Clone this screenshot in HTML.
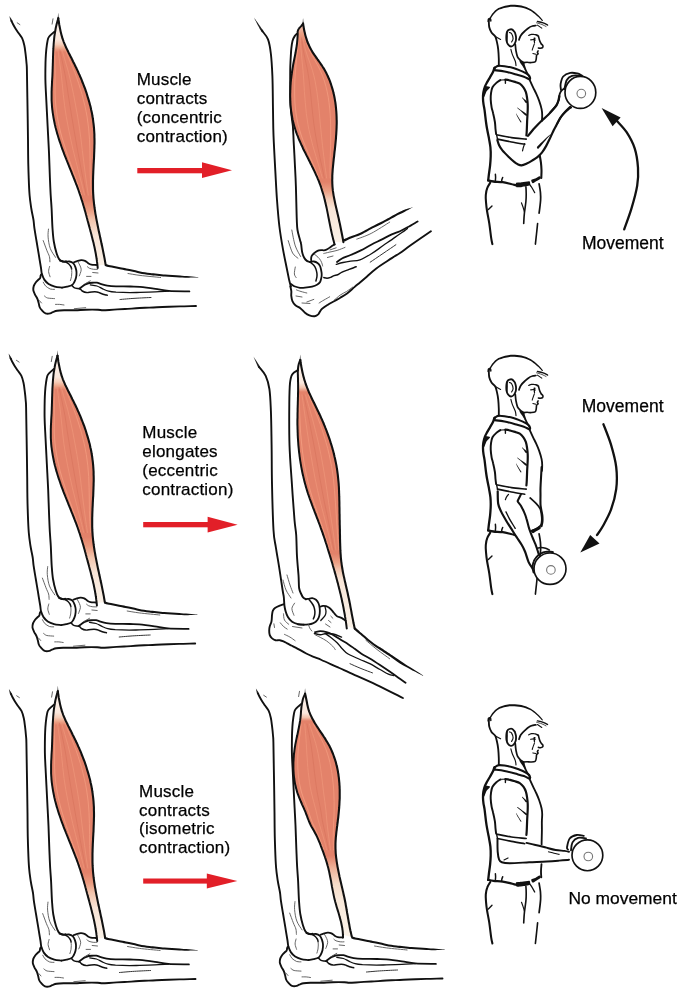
<!DOCTYPE html>
<html><head><meta charset="utf-8"><style>
html,body{margin:0;padding:0;background:#fff;width:680px;height:994px;overflow:hidden}
svg{display:block;will-change:transform}
text{font-family:"Liberation Sans",sans-serif;fill:#000;stroke:#000;stroke-width:0.25px}
</style></head><body>
<svg width="680" height="994" viewBox="0 0 680 994">
<defs>
<g id="armAm"><path d="M58.2,13.3C58.1,13.6 58.0,15.1 57.9,15.8C57.8,16.5 57.4,18.4 57.6,18.8C57.7,19.2 58.9,19.2 59.1,18.8C59.2,18.4 58.8,16.5 58.7,15.8C58.6,15.1 58.5,13.6 58.4,13.3C58.3,13.0 58.3,13.0 58.2,13.3Z" fill="#666" stroke="none"/>
<linearGradient id="gA" gradientUnits="userSpaceOnUse" x1="0" y1="14" x2="0" y2="268"><stop offset="0" stop-color="#FDF6F0"/><stop offset="0.1" stop-color="#FAE8DD"/><stop offset="0.12" stop-color="#F5CDB8"/><stop offset="0.135" stop-color="#EEA88C"/><stop offset="0.15" stop-color="#E3826A"/><stop offset="0.73" stop-color="#E3826A"/><stop offset="0.77" stop-color="#EA9A7E"/><stop offset="0.81" stop-color="#F2C4AC"/><stop offset="0.87" stop-color="#F8E4D6"/><stop offset="1" stop-color="#FAF2E8"/></linearGradient>
<path d="M58.3,18.3C58.5,18.3 58.6,20.3 58.8,21.3C58.9,22.3 59.1,23.4 59.2,24.4C59.4,25.4 59.6,26.4 59.8,27.4C60.0,28.4 60.2,29.4 60.4,30.4C60.6,31.4 60.8,32.4 61.1,33.4C61.3,34.4 61.6,35.4 61.9,36.3C62.1,37.3 62.4,38.3 62.8,39.2C63.1,40.2 63.5,41.2 63.8,42.1C64.2,43.1 64.6,44.0 65.0,44.9C65.4,45.9 65.8,46.8 66.2,47.7C66.7,48.6 67.1,49.6 67.6,50.5C68.0,51.4 68.5,52.3 68.9,53.2C69.4,54.1 69.8,55.0 70.3,55.9C70.7,56.8 71.2,57.7 71.7,58.6C72.1,59.5 72.6,60.5 73.0,61.4C73.5,62.3 73.9,63.2 74.4,64.1C74.8,65.0 75.3,65.9 75.7,66.8C76.2,67.7 76.6,68.6 77.0,69.6C77.5,70.5 77.9,71.4 78.3,72.3C78.7,73.3 79.1,74.2 79.6,75.1C80.0,76.1 80.4,77.0 80.8,77.9C81.2,78.9 81.6,79.8 82.0,80.8C82.3,81.7 82.7,82.7 83.1,83.6C83.5,84.6 83.8,85.5 84.2,86.5C84.6,87.5 84.9,88.4 85.3,89.4C85.6,90.4 85.9,91.3 86.3,92.3C86.6,93.3 86.9,94.2 87.2,95.2C87.5,96.2 87.8,97.2 88.1,98.1C88.4,99.1 88.7,100.1 89.0,101.1C89.3,102.1 89.5,103.1 89.8,104.1C90.1,105.1 90.3,106.0 90.6,107.0C90.8,108.0 91.0,109.0 91.2,110.0C91.5,111.0 91.7,112.0 91.9,113.0C92.1,114.0 92.3,115.0 92.4,116.0C92.6,117.0 92.8,118.0 92.9,119.0C93.1,120.0 93.2,121.1 93.3,122.1C93.5,123.1 93.6,124.1 93.7,125.1C93.8,126.1 93.9,127.1 94.0,128.1C94.1,129.1 94.1,130.2 94.2,131.2C94.3,132.2 94.3,133.2 94.4,134.2C94.4,135.2 94.4,136.3 94.4,137.3C94.5,138.3 94.5,139.3 94.5,140.3C94.5,141.3 94.5,142.4 94.5,143.4C94.5,144.4 94.4,145.4 94.4,146.4C94.4,147.5 94.4,148.5 94.3,149.5C94.3,150.5 94.3,151.6 94.2,152.6C94.2,153.6 94.1,154.6 94.1,155.6C94.1,156.7 94.0,157.7 94.0,158.7C93.9,159.7 93.8,160.8 93.8,161.8C93.7,162.8 93.7,163.8 93.6,164.9C93.6,165.9 93.5,166.9 93.5,167.9C93.4,168.9 93.4,170.0 93.3,171.0C93.3,172.0 93.3,173.0 93.2,174.1C93.2,175.1 93.1,176.1 93.1,177.1C93.1,178.1 93.1,179.2 93.0,180.2C93.0,181.2 93.0,182.2 93.0,183.2C93.0,184.3 93.0,185.3 93.0,186.3C93.0,187.3 93.0,188.3 93.0,189.3C93.1,190.4 93.1,191.4 93.1,192.4C93.2,193.4 93.2,194.4 93.3,195.4C93.4,196.4 93.4,197.5 93.5,198.5C93.6,199.5 93.7,200.5 93.8,201.5C93.9,202.5 94.0,203.5 94.1,204.5C94.3,205.5 94.4,206.5 94.5,207.5C94.7,208.5 94.8,209.6 95.0,210.6C95.1,211.6 95.3,212.6 95.4,213.6C95.6,214.6 95.8,215.6 96.0,216.6C96.1,217.6 96.3,218.6 96.5,219.6C96.7,220.6 96.9,221.6 97.1,222.6C97.3,223.6 97.5,224.6 97.7,225.6C97.9,226.6 98.1,227.6 98.3,228.6C98.5,229.6 98.7,230.6 98.9,231.6C99.2,232.6 99.4,233.6 99.6,234.6C99.8,235.6 100.0,236.6 100.2,237.6C100.5,238.6 100.7,239.6 100.9,240.6C101.1,241.6 101.3,242.6 101.5,243.6C101.8,244.6 102.0,245.6 102.2,246.6C102.4,247.6 102.6,248.6 102.8,249.6C103.0,250.6 103.2,251.6 103.4,252.6C103.6,253.6 103.8,254.6 104.0,255.6C104.2,256.6 104.4,257.6 104.6,258.6C104.8,259.6 104.9,260.6 105.1,261.6C105.3,262.6 106.9,264.0 105.6,264.6C104.3,265.2 98.8,265.4 97.4,264.9C96.0,264.5 97.2,262.9 97.0,261.9C96.9,260.9 96.8,259.8 96.6,258.8C96.5,257.8 96.3,256.8 96.1,255.8C96.0,254.8 95.8,253.8 95.6,252.8C95.4,251.8 95.2,250.8 95.0,249.8C94.8,248.8 94.6,247.8 94.4,246.8C94.1,245.8 93.9,244.8 93.7,243.8C93.5,242.8 93.2,241.9 93.0,240.9C92.7,239.9 92.5,238.9 92.2,237.9C92.0,236.9 91.7,235.9 91.5,234.9C91.2,234.0 91.0,233.0 90.7,232.0C90.4,231.0 90.2,230.0 89.9,229.0C89.7,228.0 89.4,227.1 89.1,226.1C88.9,225.1 88.6,224.1 88.3,223.1C88.1,222.2 87.8,221.2 87.5,220.2C87.3,219.2 87.0,218.2 86.7,217.2C86.5,216.3 86.2,215.3 85.9,214.3C85.7,213.3 85.4,212.3 85.1,211.3C84.8,210.4 84.6,209.4 84.3,208.4C84.0,207.4 83.7,206.5 83.4,205.5C83.1,204.5 82.9,203.5 82.6,202.6C82.3,201.6 82.0,200.6 81.6,199.6C81.3,198.7 81.0,197.7 80.7,196.7C80.4,195.8 80.1,194.8 79.7,193.8C79.4,192.9 79.1,191.9 78.7,190.9C78.4,190.0 78.0,189.0 77.7,188.1C77.3,187.1 77.0,186.2 76.6,185.2C76.2,184.3 75.9,183.3 75.5,182.4C75.1,181.4 74.8,180.4 74.4,179.5C74.0,178.5 73.6,177.6 73.3,176.6C72.9,175.7 72.5,174.8 72.1,173.8C71.7,172.9 71.4,171.9 71.0,171.0C70.6,170.0 70.2,169.1 69.8,168.1C69.4,167.2 69.0,166.2 68.7,165.3C68.3,164.3 67.9,163.4 67.5,162.4C67.1,161.5 66.8,160.5 66.4,159.6C66.0,158.6 65.6,157.7 65.2,156.7C64.9,155.8 64.5,154.8 64.1,153.9C63.8,152.9 63.4,152.0 63.1,151.0C62.7,150.0 62.3,149.1 62.0,148.1C61.6,147.2 61.3,146.2 61.0,145.2C60.6,144.3 60.3,143.3 60.0,142.3C59.6,141.4 59.3,140.4 59.0,139.4C58.7,138.5 58.4,137.5 58.1,136.5C57.8,135.5 57.5,134.6 57.2,133.6C56.9,132.6 56.7,131.6 56.4,130.6C56.1,129.6 55.9,128.6 55.6,127.7C55.4,126.7 55.2,125.7 54.9,124.7C54.7,123.7 54.5,122.7 54.3,121.7C54.1,120.7 53.9,119.7 53.7,118.7C53.5,117.7 53.3,116.7 53.2,115.7C53.0,114.7 52.9,113.6 52.7,112.6C52.6,111.6 52.5,110.6 52.3,109.6C52.2,108.6 52.1,107.6 52.0,106.6C51.9,105.6 51.9,104.5 51.8,103.5C51.7,102.5 51.7,101.5 51.6,100.5C51.6,99.5 51.6,98.4 51.6,97.4C51.6,96.4 51.6,95.4 51.6,94.4C51.6,93.4 51.6,92.3 51.6,91.3C51.7,90.3 51.7,89.3 51.7,88.2C51.8,87.2 51.8,86.2 51.9,85.2C51.9,84.2 52.0,83.1 52.0,82.1C52.1,81.1 52.1,80.1 52.2,79.0C52.3,78.0 52.3,77.0 52.4,76.0C52.4,75.0 52.5,73.9 52.5,72.9C52.6,71.9 52.6,70.9 52.6,69.8C52.7,68.8 52.7,67.8 52.7,66.8C52.8,65.7 52.8,64.7 52.8,63.7C52.9,62.7 52.9,61.6 52.9,60.6C52.9,59.6 53.0,58.6 53.0,57.5C53.0,56.5 53.1,55.5 53.1,54.5C53.1,53.4 53.2,52.4 53.2,51.4C53.3,50.4 53.3,49.4 53.4,48.4C53.4,47.3 53.5,46.3 53.6,45.3C53.6,44.3 53.7,43.3 53.8,42.3C53.9,41.2 54.0,40.2 54.1,39.2C54.2,38.2 54.3,37.2 54.4,36.2C54.6,35.2 54.7,34.2 54.9,33.2C55.0,32.2 55.2,31.2 55.4,30.2C55.5,29.2 55.7,28.2 55.9,27.2C56.2,26.2 56.4,25.2 56.6,24.2C56.9,23.2 57.1,22.2 57.4,21.2C57.7,20.3 58.1,18.3 58.3,18.3Z" fill="url(#gA)" stroke="none"/>
<path d="M54.7,50.0C54.7,51.9 54.8,57.4 54.9,61.2C55.0,64.9 55.1,68.6 55.1,72.3C55.1,76.0 55.1,79.7 55.1,83.5C55.1,87.2 55.0,90.9 55.1,94.6C55.2,98.3 55.4,102.1 55.8,105.8C56.2,109.5 56.7,113.2 57.3,116.9C57.9,120.6 58.7,124.4 59.6,128.1C60.4,131.8 61.4,135.5 62.5,139.2C63.6,142.9 64.8,146.7 66.0,150.4C67.2,154.1 68.5,157.8 69.8,161.5C71.1,165.3 72.5,169.0 73.8,172.7C75.2,176.4 76.5,180.1 77.8,183.8C79.0,187.6 80.8,193.1 81.4,195.0" fill="none" stroke="#F29A7E" stroke-width="1.1" stroke-linecap="round" opacity="0.9"/>
<path d="M57.9,50.0C58.2,51.9 59.0,57.4 59.5,61.2C60.0,64.9 60.6,68.6 61.0,72.3C61.5,76.0 61.8,79.7 62.2,83.5C62.6,87.2 62.9,90.9 63.3,94.6C63.7,98.3 64.1,102.1 64.6,105.8C65.1,109.5 65.7,113.2 66.3,116.9C67.0,120.6 67.6,124.4 68.4,128.1C69.1,131.8 69.9,135.5 70.7,139.2C71.5,142.9 72.3,146.7 73.2,150.4C74.1,154.1 75.0,157.8 76.0,161.5C76.9,165.3 77.8,169.0 78.8,172.7C79.7,176.4 80.7,180.1 81.7,183.8C82.6,187.6 84.0,193.1 84.5,195.0" fill="none" stroke="#EE9478" stroke-width="1.0" stroke-linecap="round" opacity="0.8"/>
<path d="M59.9,50.0C60.3,51.9 61.5,57.4 62.3,61.2C63.1,64.9 63.9,68.6 64.6,72.3C65.4,76.0 66.0,79.7 66.6,83.5C67.2,87.2 67.7,90.9 68.2,94.6C68.8,98.3 69.4,102.1 70.0,105.8C70.5,109.5 71.2,113.2 71.8,116.9C72.4,120.6 73.1,124.4 73.7,128.1C74.4,131.8 75.0,135.5 75.6,139.2C76.3,142.9 76.9,146.7 77.6,150.4C78.3,154.1 79.0,157.8 79.7,161.5C80.4,165.3 81.1,169.0 81.8,172.7C82.5,176.4 83.3,180.1 84.0,183.8C84.8,187.6 85.9,193.1 86.3,195.0" fill="none" stroke="#D06B54" stroke-width="0.9" stroke-linecap="round" opacity="0.45"/>
<path d="M62.0,50.0C62.6,51.9 64.2,57.4 65.3,61.2C66.4,64.9 67.5,68.6 68.5,72.3C69.5,76.0 70.4,79.7 71.2,83.5C72.1,87.2 72.8,90.9 73.6,94.6C74.3,98.3 75.0,102.1 75.7,105.8C76.4,109.5 77.1,113.2 77.7,116.9C78.3,120.6 78.9,124.4 79.5,128.1C80.0,131.8 80.5,135.5 81.0,139.2C81.4,142.9 81.9,146.7 82.3,150.4C82.8,154.1 83.2,157.8 83.7,161.5C84.1,165.3 84.6,169.0 85.1,172.7C85.5,176.4 86.0,180.1 86.6,183.8C87.1,187.6 88.0,193.1 88.3,195.0" fill="none" stroke="#EE9579" stroke-width="1.0" stroke-linecap="round" opacity="0.75"/>
<path d="M65.4,50.0C66.2,51.9 68.6,57.4 70.1,61.2C71.7,64.9 73.3,68.6 74.7,72.3C76.1,76.0 77.5,79.7 78.7,83.5C79.9,87.2 81.0,90.9 82.1,94.6C83.1,98.3 84.0,102.1 84.9,105.8C85.7,109.5 86.5,113.2 87.1,116.9C87.7,120.6 88.2,124.4 88.6,128.1C89.0,131.8 89.3,135.5 89.5,139.2C89.7,142.9 89.8,146.7 89.9,150.4C90.0,154.1 90.0,157.8 90.1,161.5C90.1,165.3 90.2,169.0 90.2,172.7C90.3,176.4 90.4,180.1 90.6,183.8C90.8,187.6 91.3,193.1 91.4,195.0" fill="none" stroke="#F29A7E" stroke-width="1.0" stroke-linecap="round" opacity="0.85"/>
<path d="M58.3,18.3C58.4,18.8 58.6,20.3 58.8,21.3C58.9,22.3 59.1,23.4 59.2,24.4C59.4,25.4 59.6,26.4 59.8,27.4C60.0,28.4 60.2,29.4 60.4,30.4C60.6,31.4 60.8,32.4 61.1,33.4C61.3,34.4 61.6,35.4 61.9,36.3C62.1,37.3 62.4,38.3 62.8,39.2C63.1,40.2 63.5,41.2 63.8,42.1C64.2,43.1 64.6,44.0 65.0,44.9C65.4,45.9 65.8,46.8 66.2,47.7C66.7,48.6 67.1,49.6 67.6,50.5C68.0,51.4 68.5,52.3 68.9,53.2C69.4,54.1 69.8,55.0 70.3,55.9C70.7,56.8 71.2,57.7 71.7,58.6C72.1,59.5 72.6,60.5 73.0,61.4C73.5,62.3 73.9,63.2 74.4,64.1C74.8,65.0 75.3,65.9 75.7,66.8C76.2,67.7 76.6,68.6 77.0,69.6C77.5,70.5 77.9,71.4 78.3,72.3C78.7,73.3 79.1,74.2 79.6,75.1C80.0,76.1 80.4,77.0 80.8,77.9C81.2,78.9 81.6,79.8 82.0,80.8C82.3,81.7 82.7,82.7 83.1,83.6C83.5,84.6 83.8,85.5 84.2,86.5C84.6,87.5 84.9,88.4 85.3,89.4C85.6,90.4 85.9,91.3 86.3,92.3C86.6,93.3 86.9,94.2 87.2,95.2C87.5,96.2 87.8,97.2 88.1,98.1C88.4,99.1 88.7,100.1 89.0,101.1C89.3,102.1 89.5,103.1 89.8,104.1C90.1,105.1 90.3,106.0 90.6,107.0C90.8,108.0 91.0,109.0 91.2,110.0C91.5,111.0 91.7,112.0 91.9,113.0C92.1,114.0 92.3,115.0 92.4,116.0C92.6,117.0 92.8,118.0 92.9,119.0C93.1,120.0 93.2,121.1 93.3,122.1C93.5,123.1 93.6,124.1 93.7,125.1C93.8,126.1 93.9,127.1 94.0,128.1C94.1,129.1 94.1,130.2 94.2,131.2C94.3,132.2 94.3,133.2 94.4,134.2C94.4,135.2 94.4,136.3 94.4,137.3C94.5,138.3 94.5,139.3 94.5,140.3C94.5,141.3 94.5,142.4 94.5,143.4C94.5,144.4 94.4,145.4 94.4,146.4C94.4,147.5 94.4,148.5 94.3,149.5C94.3,150.5 94.3,151.6 94.2,152.6C94.2,153.6 94.1,154.6 94.1,155.6C94.1,156.7 94.0,157.7 94.0,158.7C93.9,159.7 93.8,160.8 93.8,161.8C93.7,162.8 93.7,163.8 93.6,164.9C93.6,165.9 93.5,166.9 93.5,167.9C93.4,168.9 93.4,170.0 93.3,171.0C93.3,172.0 93.3,173.0 93.2,174.1C93.2,175.1 93.1,176.1 93.1,177.1C93.1,178.1 93.1,179.2 93.0,180.2C93.0,181.2 93.0,182.2 93.0,183.2C93.0,184.3 93.0,185.3 93.0,186.3C93.0,187.3 93.0,188.3 93.0,189.3C93.1,190.4 93.1,191.4 93.1,192.4C93.2,193.4 93.2,194.4 93.3,195.4C93.4,196.4 93.4,197.5 93.5,198.5C93.6,199.5 93.7,200.5 93.8,201.5C93.9,202.5 94.0,203.5 94.1,204.5C94.3,205.5 94.4,206.5 94.5,207.5C94.7,208.5 94.8,209.6 95.0,210.6C95.1,211.6 95.3,212.6 95.4,213.6C95.6,214.6 95.8,215.6 96.0,216.6C96.1,217.6 96.3,218.6 96.5,219.6C96.7,220.6 96.9,221.6 97.1,222.6C97.3,223.6 97.5,224.6 97.7,225.6C97.9,226.6 98.1,227.6 98.3,228.6C98.5,229.6 98.7,230.6 98.9,231.6C99.2,232.6 99.4,233.6 99.6,234.6C99.8,235.6 100.0,236.6 100.2,237.6C100.5,238.6 100.7,239.6 100.9,240.6C101.1,241.6 101.3,242.6 101.5,243.6C101.8,244.6 102.0,245.6 102.2,246.6C102.4,247.6 102.6,248.6 102.8,249.6C103.0,250.6 103.2,251.6 103.4,252.6C103.6,253.6 103.8,254.6 104.0,255.6C104.2,256.6 104.4,257.6 104.6,258.6C104.8,259.6 104.9,260.6 105.1,261.6C105.3,262.6 105.5,264.1 105.6,264.6" fill="none" stroke="#111" stroke-width="2.1" stroke-linecap="round" stroke-linejoin="round" />
<path d="M97.7,268.0C97.7,267.5 97.5,265.9 97.4,264.9C97.3,263.9 97.2,262.9 97.0,261.9C96.9,260.9 96.8,259.8 96.6,258.8C96.5,257.8 96.3,256.8 96.1,255.8C96.0,254.8 95.8,253.8 95.6,252.8C95.4,251.8 95.2,250.8 95.0,249.8C94.8,248.8 94.6,247.8 94.4,246.8C94.1,245.8 93.9,244.8 93.7,243.8C93.5,242.8 93.2,241.9 93.0,240.9C92.7,239.9 92.5,238.9 92.2,237.9C92.0,236.9 91.7,235.9 91.5,234.9C91.2,234.0 91.0,233.0 90.7,232.0C90.4,231.0 90.2,230.0 89.9,229.0C89.7,228.0 89.4,227.1 89.1,226.1C88.9,225.1 88.6,224.1 88.3,223.1C88.1,222.2 87.8,221.2 87.5,220.2C87.3,219.2 87.0,218.2 86.7,217.2C86.5,216.3 86.2,215.3 85.9,214.3C85.7,213.3 85.4,212.3 85.1,211.3C84.8,210.4 84.6,209.4 84.3,208.4C84.0,207.4 83.7,206.5 83.4,205.5C83.1,204.5 82.9,203.5 82.6,202.6C82.3,201.6 82.0,200.6 81.6,199.6C81.3,198.7 81.0,197.7 80.7,196.7C80.4,195.8 80.1,194.8 79.7,193.8C79.4,192.9 79.1,191.9 78.7,190.9C78.4,190.0 78.0,189.0 77.7,188.1C77.3,187.1 77.0,186.2 76.6,185.2C76.2,184.3 75.9,183.3 75.5,182.4C75.1,181.4 74.8,180.4 74.4,179.5C74.0,178.5 73.6,177.6 73.3,176.6C72.9,175.7 72.5,174.8 72.1,173.8C71.7,172.9 71.4,171.9 71.0,171.0C70.6,170.0 70.2,169.1 69.8,168.1C69.4,167.2 69.0,166.2 68.7,165.3C68.3,164.3 67.9,163.4 67.5,162.4C67.1,161.5 66.8,160.5 66.4,159.6C66.0,158.6 65.6,157.7 65.2,156.7C64.9,155.8 64.5,154.8 64.1,153.9C63.8,152.9 63.4,152.0 63.1,151.0C62.7,150.0 62.3,149.1 62.0,148.1C61.6,147.2 61.3,146.2 61.0,145.2C60.6,144.3 60.3,143.3 60.0,142.3C59.6,141.4 59.3,140.4 59.0,139.4C58.7,138.5 58.4,137.5 58.1,136.5C57.8,135.5 57.5,134.6 57.2,133.6C56.9,132.6 56.7,131.6 56.4,130.6C56.1,129.6 55.9,128.6 55.6,127.7C55.4,126.7 55.2,125.7 54.9,124.7C54.7,123.7 54.5,122.7 54.3,121.7C54.1,120.7 53.9,119.7 53.7,118.7C53.5,117.7 53.3,116.7 53.2,115.7C53.0,114.7 52.9,113.6 52.7,112.6C52.6,111.6 52.5,110.6 52.3,109.6C52.2,108.6 52.1,107.6 52.0,106.6C51.9,105.6 51.9,104.5 51.8,103.5C51.7,102.5 51.7,101.5 51.6,100.5C51.6,99.5 51.6,98.4 51.6,97.4C51.6,96.4 51.6,95.4 51.6,94.4C51.6,93.4 51.6,92.3 51.6,91.3C51.7,90.3 51.7,89.3 51.7,88.2C51.8,87.2 51.8,86.2 51.9,85.2C51.9,84.2 52.0,83.1 52.0,82.1C52.1,81.1 52.1,80.1 52.2,79.0C52.3,78.0 52.3,77.0 52.4,76.0C52.4,75.0 52.5,73.9 52.5,72.9C52.6,71.9 52.6,70.9 52.6,69.8C52.7,68.8 52.7,67.8 52.7,66.8C52.8,65.7 52.8,64.7 52.8,63.7C52.9,62.7 52.9,61.6 52.9,60.6C52.9,59.6 53.0,58.6 53.0,57.5C53.0,56.5 53.1,55.5 53.1,54.5C53.1,53.4 53.2,52.4 53.2,51.4C53.3,50.4 53.3,49.4 53.4,48.4C53.4,47.3 53.5,46.3 53.6,45.3C53.6,44.3 53.7,43.3 53.8,42.3C53.9,41.2 54.0,40.2 54.1,39.2C54.2,38.2 54.3,37.2 54.4,36.2C54.6,35.2 54.7,34.2 54.9,33.2C55.0,32.2 55.2,31.2 55.4,30.2C55.5,29.2 55.7,28.2 55.9,27.2C56.2,26.2 56.4,25.2 56.6,24.2C56.9,23.2 57.1,22.2 57.4,21.2C57.7,20.3 58.2,18.8 58.3,18.3" fill="none" stroke="#111" stroke-width="2.0" stroke-linecap="round" stroke-linejoin="round" /></g>
<g id="armAb"><path d="M9.5,16.5C9.6,17.2 10.3,21.0 10.7,21.6C11.1,22.1 12.6,21.5 12.5,20.8C12.3,20.1 10.1,17.0 9.7,16.5C9.3,15.9 9.4,15.9 9.5,16.5Z" fill="#222" stroke="none"/>
<path d="M11.6,21.2C11.8,21.7 12.3,22.9 12.9,24.0C13.5,25.1 14.1,26.2 15.0,27.7C15.9,29.2 17.3,31.2 18.5,33.0C19.7,34.8 21.1,36.2 22.1,38.2C23.1,40.2 23.7,42.6 24.3,45.3C24.9,47.9 25.2,51.1 25.6,54.1C26.0,57.1 26.3,60.4 26.5,63.0C26.7,65.7 26.8,63.8 26.9,70.0C27.0,76.2 27.2,88.3 27.4,100.0C27.6,111.7 27.9,130.0 28.0,140.0C28.1,150.0 28.1,153.7 28.2,160.0C28.3,166.3 28.5,171.8 28.7,177.7C28.9,183.6 29.2,190.2 29.6,195.3C30.0,200.4 30.7,204.4 31.3,208.5C31.9,212.6 33.0,216.7 33.5,220.0C34.0,223.3 33.9,224.6 34.4,228.2C34.9,231.8 35.9,237.1 36.6,241.5C37.3,245.9 38.1,250.3 38.8,254.7C39.5,259.1 40.5,264.8 41.0,268.0C41.5,271.2 41.3,272.1 41.9,274.1C42.5,276.1 43.4,278.2 44.5,279.9C45.6,281.5 46.9,282.9 48.6,284.0C50.3,285.1 52.6,286.0 54.8,286.6C57.0,287.2 60.8,287.4 62.0,287.6" fill="none" stroke="#111" stroke-width="1.9" stroke-linecap="round" stroke-linejoin="round" />
<path d="M54.7,31.5C54.0,32.1 51.4,34.1 50.3,35.3C49.2,36.5 48.7,36.8 48.1,38.5C47.5,40.2 47.2,42.7 46.8,45.3C46.4,47.9 46.1,51.1 45.9,54.1C45.7,57.1 45.6,58.7 45.5,63.0C45.4,67.3 45.3,73.8 45.4,80.0C45.5,86.2 46.0,93.7 46.3,100.0C46.6,106.3 46.9,111.8 47.2,117.7C47.5,123.6 47.8,129.4 48.1,135.3C48.4,141.2 48.7,145.9 49.0,153.0C49.3,160.1 49.6,170.6 49.9,177.7C50.2,184.8 50.4,190.2 50.7,195.3C51.0,200.4 51.3,203.0 51.6,208.5C51.9,214.0 52.1,222.7 52.5,228.2C52.9,233.7 53.1,237.4 53.8,241.5C54.5,245.6 55.6,250.1 56.5,253.0C57.4,255.9 58.1,257.7 59.1,259.1C60.1,260.5 61.6,261.1 62.7,261.5C63.9,261.9 65.5,261.3 66.0,261.3" fill="none" stroke="#111" stroke-width="1.9" stroke-linecap="round" stroke-linejoin="round" />
<path d="M60.0,260.6C60.8,260.8 63.1,261.7 64.7,261.8C66.3,261.9 68.0,261.3 69.4,261.5C70.8,261.7 72.2,262.2 73.2,263.2C74.2,264.2 75.0,265.9 75.5,267.4C76.0,268.9 76.4,270.4 76.5,272.1C76.6,273.8 76.4,276.1 76.0,277.8C75.6,279.5 74.8,281.2 74.1,282.5C73.4,283.8 73.0,284.6 71.8,285.3C70.6,286.0 68.7,286.3 67.1,286.7C65.5,287.1 62.9,287.5 62.0,287.6" fill="none" stroke="#111" stroke-width="1.8" stroke-linecap="round" stroke-linejoin="round" />
<path d="M74.1,262.2C74.5,262.1 75.3,261.6 76.5,261.3C77.7,261.0 79.8,260.2 81.2,260.1C82.6,260.0 83.8,260.3 85.0,260.8C86.2,261.3 87.2,262.6 88.2,263.2C89.2,263.8 89.9,264.3 91.3,264.6C92.7,264.9 95.6,264.9 96.4,265.0" fill="none" stroke="#111" stroke-width="1.8" stroke-linecap="round" stroke-linejoin="round" />
<path d="M66.1,262.2C66.5,262.5 68.0,263.3 68.8,264.0C69.6,264.7 70.3,265.7 70.8,266.5C71.3,267.3 71.5,268.6 71.6,269.0" fill="none" stroke="#111" stroke-width="1.5" stroke-linecap="round" stroke-linejoin="round" />
<path d="M77.9,261.8C78.3,262.5 79.7,264.7 80.2,266.0C80.8,267.3 81.2,268.6 81.2,269.8C81.2,271.1 80.5,272.5 80.2,273.5C79.9,274.5 79.5,275.5 79.3,275.9" fill="none" stroke="#555" stroke-width="0.9" stroke-linecap="round" stroke-linejoin="round" />
<path d="M71.8,285.3C72.2,285.7 73.1,287.1 74.1,287.6C75.1,288.2 76.9,288.4 77.9,288.6C79.0,288.8 79.7,288.6 80.4,289.0C81.1,289.4 81.2,290.4 82.2,291.0C83.2,291.6 85.0,292.5 86.6,292.6C88.2,292.8 90.0,292.0 91.7,291.9C93.4,291.8 95.4,291.7 96.9,291.9C98.4,292.1 99.2,292.8 100.6,293.3C101.9,293.8 103.9,294.5 105.0,294.8C106.1,295.1 106.8,295.1 107.2,295.2" fill="none" stroke="#111" stroke-width="1.5" stroke-linecap="round" stroke-linejoin="round" />
<path d="M79.5,288.5C80.0,288.1 81.6,286.9 82.6,286.2C83.6,285.5 84.3,284.9 85.4,284.4C86.5,283.9 87.8,283.3 89.2,283.0C90.6,282.7 92.7,282.8 94.0,282.7C95.3,282.6 95.7,282.5 96.9,282.7C98.1,282.9 99.6,283.6 101.3,284.1C103.0,284.6 104.8,285.2 107.2,285.6C109.7,286.0 112.1,286.2 116.0,286.3C119.9,286.4 126.6,286.4 130.6,286.5C134.6,286.6 135.9,286.4 140.0,286.8C144.1,287.2 150.6,288.1 155.4,288.8C160.2,289.5 163.1,290.5 168.8,290.9C174.5,291.3 186.0,291.3 189.4,291.4" fill="none" stroke="#111" stroke-width="1.8" stroke-linecap="round" stroke-linejoin="round" />
<path d="M90.3,284.9C91.4,285.1 94.8,285.3 96.9,286.0C99.0,286.7 100.8,288.0 102.8,288.9C104.8,289.8 106.4,290.6 108.6,291.1C110.8,291.7 112.4,291.9 116.0,292.2C119.6,292.4 126.0,292.6 130.0,292.6C134.0,292.6 135.8,292.5 140.0,292.4C144.2,292.3 150.6,292.1 155.4,291.9C160.2,291.7 166.6,291.3 168.8,291.2" fill="none" stroke="#111" stroke-width="1.3" stroke-linecap="round" stroke-linejoin="round" />
<path d="M120.0,299.5C122.5,299.3 129.8,298.6 135.0,298.3C140.2,298.0 148.3,297.6 151.0,297.5" fill="none" stroke="#333" stroke-width="1.0" stroke-linecap="round" stroke-linejoin="round" />
<path d="M41.8,274.2C41.6,274.4 41.0,274.7 40.7,275.3C40.4,275.9 40.6,277.2 40.2,277.9C39.9,278.6 39.3,278.8 38.6,279.5C37.9,280.2 36.7,281.1 35.9,282.2C35.1,283.3 34.2,284.6 33.8,285.9C33.4,287.2 33.1,288.7 33.3,290.1C33.5,291.5 34.2,292.8 34.9,294.3C35.6,295.8 36.9,297.7 37.5,299.1C38.1,300.5 38.2,301.5 38.6,302.8C39.0,304.1 39.1,305.8 39.6,307.0C40.1,308.2 40.8,309.1 41.8,310.2C42.8,311.3 44.1,312.9 45.5,313.4C46.9,313.9 48.9,313.7 50.2,313.4C51.5,313.1 52.2,312.2 53.4,311.8C54.5,311.4 55.3,311.0 57.1,310.7C58.9,310.4 61.0,310.3 64.0,310.2C67.0,310.1 71.8,310.3 75.4,310.2C79.0,310.1 81.9,309.8 85.7,309.7C89.5,309.6 95.1,309.6 98.0,309.7C100.9,309.8 100.3,310.3 103.0,310.3C105.7,310.3 110.3,309.8 114.0,309.6C117.7,309.4 119.8,309.3 125.0,309.0C130.2,308.7 138.8,308.1 145.0,307.8C151.2,307.5 156.7,307.2 162.5,307.0C168.3,306.8 174.4,306.6 180.0,306.4C185.6,306.2 193.3,306.1 196.0,306.0" fill="none" stroke="#111" stroke-width="1.9" stroke-linecap="round" stroke-linejoin="round" />
<path d="M48.5,229.1C48.4,230.4 47.8,233.9 48.1,237.1C48.4,240.3 49.0,245.1 50.3,248.5C51.5,251.9 54.7,255.9 55.6,257.4" fill="none" stroke="#555" stroke-width="0.9" stroke-linecap="round" stroke-linejoin="round" />
<path d="M43.2,240.6C43.8,242.2 45.8,247.7 46.8,250.3C47.8,253.0 48.9,254.6 49.4,256.5C49.9,258.4 49.8,260.9 49.9,261.8" fill="none" stroke="#555" stroke-width="0.9" stroke-linecap="round" stroke-linejoin="round" />
<path d="M71.6,269.0C71.6,269.6 71.8,271.2 71.8,272.5C71.8,273.8 71.7,275.1 71.5,276.5C71.3,277.9 70.6,279.9 70.4,280.6" fill="none" stroke="#555" stroke-width="0.9" stroke-linecap="round" stroke-linejoin="round" />
<path d="M43.3,282.2C43.7,282.8 44.4,284.8 45.5,285.9C46.6,287.0 48.7,288.4 50.2,289.0C51.7,289.6 53.8,289.2 54.5,289.3" fill="none" stroke="#555" stroke-width="0.9" stroke-linecap="round" stroke-linejoin="round" />
<path d="M44.4,295.9C44.9,296.2 45.9,297.6 47.6,298.0C49.3,298.4 53.4,298.5 54.5,298.6" fill="none" stroke="#555" stroke-width="0.9" stroke-linecap="round" stroke-linejoin="round" />
<path d="M55.5,304.4C56.2,304.4 58.3,304.3 59.7,304.4C61.1,304.5 63.3,304.9 64.0,305.0" fill="none" stroke="#555" stroke-width="0.9" stroke-linecap="round" stroke-linejoin="round" />
<path d="M17.2,22.8L19.9,24.6" fill="none" stroke="#555" stroke-width="0.9" stroke-linecap="round" stroke-linejoin="round" />
<path d="M53.0,18.8L52.1,24.1" fill="none" stroke="#555" stroke-width="0.9" stroke-linecap="round" stroke-linejoin="round" />
<path d="M87.4,266.7C87.8,267.0 88.5,267.9 89.5,268.3C90.5,268.7 92.4,269.1 93.7,269.3C95.0,269.5 96.9,269.3 97.5,269.3" fill="none" stroke="#555" stroke-width="0.9" stroke-linecap="round" stroke-linejoin="round" />
<path d="M128.0,273.5C130.0,273.8 134.6,274.7 140.0,275.4C145.4,276.1 157.2,277.1 160.6,277.5" fill="none" stroke="#555" stroke-width="0.9" stroke-linecap="round" stroke-linejoin="round" />
<path d="M85.1,283.8L90.3,280.8" fill="none" stroke="#555" stroke-width="0.9" stroke-linecap="round" stroke-linejoin="round" />
<path d="M86.6,276.4L91.0,276.4" fill="none" stroke="#555" stroke-width="0.9" stroke-linecap="round" stroke-linejoin="round" />
<path d="M92.7,272.5L98.0,273.0" fill="none" stroke="#555" stroke-width="0.9" stroke-linecap="round" stroke-linejoin="round" />
<path d="M74.3,308.7L85.7,307.7" fill="none" stroke="#555" stroke-width="0.9" stroke-linecap="round" stroke-linejoin="round" />
<path d="M39.3,300.5L41.5,303.0" fill="none" stroke="#555" stroke-width="0.9" stroke-linecap="round" stroke-linejoin="round" />
<path d="M49.6,266.5C49.4,267.4 48.5,269.9 48.6,271.6C48.7,273.3 49.9,275.9 50.1,276.8" fill="none" stroke="#555" stroke-width="0.9" stroke-linecap="round" stroke-linejoin="round" />
<path d="M105.0,266.0C105.6,266.5 108.0,266.9 109.8,267.3C111.6,267.7 115.9,268.5 118.6,269.0C121.3,269.6 127.6,270.7 130.4,271.3C133.2,271.9 137.2,272.9 139.8,273.4C142.4,273.9 146.5,274.6 149.9,275.0C153.2,275.5 160.9,276.3 164.9,276.6C168.9,277.0 175.6,277.4 179.9,277.6C184.3,277.7 195.2,277.6 197.5,277.5C199.8,277.4 199.8,277.3 197.5,277.1C195.2,276.9 184.4,276.0 180.1,275.6C175.7,275.3 169.1,274.9 165.1,274.6C161.1,274.2 153.5,273.4 150.1,273.0C146.8,272.5 142.8,271.9 140.2,271.4C137.6,270.9 133.6,269.9 130.8,269.3C128.0,268.7 121.7,267.5 119.0,267.0C116.3,266.4 112.0,265.7 110.2,265.3C108.4,264.9 106.3,263.9 105.6,264.0C104.9,264.1 104.5,265.6 105.0,266.0Z" fill="#111" stroke="none"/></g>
<g id="ht"><path d="M489.3,21.3C490.0,20.5 492.2,16.1 493.5,14.6C494.8,13.0 497.1,10.6 499.2,9.6C501.3,8.6 506.6,7.2 509.5,6.9C512.4,6.6 518.3,7.0 521.0,7.5C523.8,8.0 527.9,9.5 530.2,10.7C532.5,12.0 536.8,15.6 538.4,17.0C539.9,18.4 541.4,20.5 542.0,20.9C542.6,21.4 543.1,20.9 542.8,20.3C542.4,19.6 540.8,17.5 539.2,16.0C537.7,14.5 533.4,10.7 531.0,9.3C528.6,7.9 524.3,6.1 521.4,5.5C518.5,4.9 512.4,4.5 509.3,4.9C506.2,5.2 500.7,6.8 498.4,8.0C496.1,9.2 493.7,11.9 492.3,13.6C491.0,15.3 488.7,19.7 488.3,20.7C487.9,21.7 488.6,22.1 489.3,21.3Z" fill="#111" stroke="none"/>
<path d="M488.2,21.5C488.2,21.1 488.1,19.4 488.5,19.0C488.9,18.6 490.1,18.5 490.5,18.8C490.9,19.1 490.8,20.6 490.8,21.0" fill="none" stroke="#111" stroke-width="1.4949999999999999" stroke-linecap="round" stroke-linejoin="round" />
<path d="M537.4,21.5C538.4,21.7 541.5,22.3 543.2,22.9C544.9,23.5 546.9,24.7 547.6,25.1" fill="none" stroke="#111" stroke-width="1.38" stroke-linecap="round" stroke-linejoin="round" />
<path d="M537.4,25.1L541.8,28.1" fill="none" stroke="#111" stroke-width="1.035" stroke-linecap="round" stroke-linejoin="round" />
<path d="M536.5,22.8C537.4,23.1 540.4,23.9 542.0,24.5C543.6,25.1 545.3,26.2 546.0,26.5" fill="none" stroke="#444" stroke-width="0.9199999999999999" stroke-linecap="round" stroke-linejoin="round" />
<path d="M488.8,21.0C488.9,22.0 488.8,25.1 489.2,27.0C489.6,28.9 490.5,30.9 491.5,32.5C492.5,34.1 494.4,34.9 495.3,36.5C496.2,38.1 496.5,40.2 497.0,42.4C497.5,44.5 497.9,46.7 498.2,49.4C498.5,52.1 498.7,56.0 498.8,58.8C498.9,61.5 498.8,64.7 498.8,65.9" fill="none" stroke="#111" stroke-width="1.8399999999999999" stroke-linecap="round" stroke-linejoin="round" />
<path d="M495.3,36.5L500.6,39.4" fill="none" stroke="#111" stroke-width="1.15" stroke-linecap="round" stroke-linejoin="round" />
<path d="M514.9,32.5C514.5,32.0 513.3,30.1 512.4,29.6C511.5,29.1 510.3,29.3 509.4,29.6C508.5,29.9 507.7,30.6 507.2,31.5C506.7,32.4 506.5,33.5 506.4,35.0C506.3,36.5 506.2,39.1 506.5,40.6C506.8,42.1 507.2,43.3 507.9,44.3C508.6,45.3 509.9,46.4 510.9,46.5C511.9,46.6 513.0,45.9 513.8,45.0C514.6,44.1 515.3,42.6 515.7,41.3C516.1,39.9 516.1,38.4 516.0,36.9C515.9,35.4 515.1,33.2 514.9,32.5" fill="none" stroke="#111" stroke-width="1.8399999999999999" stroke-linecap="round" stroke-linejoin="round" />
<path d="M506.2,33.0C506.3,32.0 507.3,30.2 507.5,30.5C507.7,30.8 507.8,34.9 507.8,36.0C507.8,37.1 507.6,41.6 507.5,42.0C507.4,42.4 506.4,40.9 506.3,40.0C506.2,39.1 506.1,34.0 506.2,33.0Z" fill="#111" stroke="none"/>
<path d="M509.4,32.5C509.8,32.7 510.9,32.5 511.5,33.5C512.1,34.5 513.1,37.0 513.1,38.4C513.1,39.8 511.9,41.4 511.6,42.0" fill="none" stroke="#111" stroke-width="1.15" stroke-linecap="round" stroke-linejoin="round" />
<path d="M519.0,39.9C519.3,39.1 519.8,36.9 520.8,35.4C521.8,33.9 523.5,32.3 524.9,31.0C526.3,29.7 527.9,28.2 529.3,27.4C530.6,26.5 531.9,26.2 533.0,25.9C534.1,25.6 535.4,25.6 535.9,25.5" fill="none" stroke="#111" stroke-width="1.7249999999999999" stroke-linecap="round" stroke-linejoin="round" />
<path d="M528.7,36.1C529.1,36.0 530.6,35.0 531.6,34.9C532.5,34.8 534.9,35.2 535.7,35.4C536.5,35.7 537.3,36.7 537.7,36.6C538.1,36.5 538.7,35.3 538.5,35.0C538.3,34.6 537.0,34.1 536.1,34.0C535.1,33.8 532.5,33.5 531.4,33.7C530.4,33.8 528.7,34.8 528.3,35.1C527.9,35.5 528.3,36.1 528.7,36.1Z" fill="#111" stroke="none"/>
<path d="M530.7,39.9C531.2,39.8 533.0,39.5 533.7,39.5C534.4,39.5 534.9,40.1 535.1,40.2" fill="none" stroke="#111" stroke-width="1.15" stroke-linecap="round" stroke-linejoin="round" />
<path d="M533.7,37.7C533.5,38.0 533.5,39.8 533.6,40.5C533.7,41.2 533.9,42.7 534.1,43.1C534.3,43.4 535.0,43.3 535.1,42.9C535.2,42.6 534.9,41.2 535.0,40.5C535.1,39.8 535.7,38.3 535.5,37.9C535.3,37.5 534.0,37.4 533.7,37.7Z" fill="#111" stroke="none"/>
<path d="M534.4,43.8C534.1,44.5 533.3,46.8 532.9,47.9C532.5,49.0 532.3,49.7 532.2,50.1" fill="none" stroke="#111" stroke-width="1.035" stroke-linecap="round" stroke-linejoin="round" />
<path d="M538.4,36.0C538.6,36.8 539.2,39.4 539.6,40.6C540.0,41.9 540.5,42.6 541.0,43.5C541.5,44.4 542.6,45.0 542.9,45.7C543.1,46.4 542.9,47.2 542.5,47.6C542.1,48.0 541.0,48.2 540.3,48.3C539.6,48.4 538.7,48.0 538.4,48.0" fill="none" stroke="#111" stroke-width="1.6099999999999999" stroke-linecap="round" stroke-linejoin="round" />
<path d="M538.1,50.9C538.0,51.1 537.4,51.9 537.4,52.4C537.4,52.9 538.2,53.3 538.1,53.8C538.0,54.3 536.9,54.4 536.6,55.3C536.3,56.2 536.5,57.9 536.2,59.0C536.0,60.1 536.0,61.3 535.1,61.9C534.2,62.5 532.0,62.5 530.7,62.6C529.4,62.7 528.3,62.3 527.1,62.3C525.9,62.3 524.0,62.5 523.4,62.6" fill="none" stroke="#111" stroke-width="1.6099999999999999" stroke-linecap="round" stroke-linejoin="round" />
<path d="M532.9,53.5L535.9,54.2" fill="none" stroke="#111" stroke-width="1.035" stroke-linecap="round" stroke-linejoin="round" />
<path d="M515.3,44.3C515.4,45.4 515.6,48.8 516.0,50.9C516.4,53.0 516.8,55.2 517.5,56.8C518.2,58.4 519.4,59.4 520.4,60.4C521.4,61.4 522.8,61.7 523.4,62.6C524.0,63.5 523.6,64.1 524.1,65.6C524.6,67.1 525.4,69.7 526.3,71.5C527.2,73.3 528.8,75.8 529.3,76.6" fill="none" stroke="#111" stroke-width="1.7249999999999999" stroke-linecap="round" stroke-linejoin="round" />
<path d="M519.5,60.5C519.8,60.5 522.9,62.0 523.4,62.6C523.9,63.2 524.1,66.2 524.3,67.0C524.5,67.8 525.4,70.6 525.2,70.5C525.0,70.4 523.0,66.8 522.5,66.0C522.0,65.2 520.3,63.0 520.0,62.5C519.7,62.0 519.2,60.5 519.5,60.5Z" fill="#111" stroke="none"/>
<path d="M510.9,49.4C511.1,50.3 511.7,52.6 512.4,54.6C513.1,56.6 514.7,59.4 515.3,61.2C515.9,63.0 515.9,64.9 516.0,65.6" fill="none" stroke="#111" stroke-width="1.15" stroke-linecap="round" stroke-linejoin="round" />
<path d="M494.8,67.8C495.4,67.5 496.7,66.1 498.3,65.8C499.9,65.5 502.0,65.8 504.5,66.2C507.0,66.6 510.6,67.3 513.3,68.0C515.9,68.7 518.3,69.8 520.4,70.6C522.5,71.4 524.2,72.3 525.7,73.1C527.2,73.9 528.5,74.8 529.2,75.6C529.9,76.4 530.0,77.8 530.1,78.2" fill="none" stroke="#111" stroke-width="2.07" stroke-linecap="round" stroke-linejoin="round" />
<path d="M494.8,70.2C496.4,70.4 501.1,70.8 504.5,71.5C507.9,72.2 511.9,73.3 515.1,74.2C518.3,75.1 521.5,75.9 523.9,76.7C526.2,77.5 528.2,79.0 529.2,79.2C530.2,79.5 530.0,78.4 530.1,78.2" fill="none" stroke="#111" stroke-width="2.07" stroke-linecap="round" stroke-linejoin="round" />
<path d="M494.8,67.3L494.8,69.5" fill="none" stroke="#111" stroke-width="1.6099999999999999" stroke-linecap="round" stroke-linejoin="round" />
<path d="M494.3,68.0C494.1,68.6 493.8,70.2 493.1,71.7C492.4,73.2 491.1,75.4 490.1,77.1C489.1,78.8 488.1,80.4 487.3,81.9C486.5,83.4 485.8,84.4 485.1,86.1C484.5,87.8 483.8,90.2 483.4,92.2C483.0,94.2 483.0,96.2 483.0,98.2C483.0,100.2 483.2,102.2 483.5,104.2C483.8,106.2 484.2,107.3 484.6,110.3C485.0,113.3 485.6,118.9 486.0,122.0C486.4,125.1 486.6,126.3 487.1,129.0C487.6,131.7 488.3,135.1 488.9,138.1C489.4,141.1 490.1,144.2 490.4,147.2C490.7,150.2 490.8,153.2 490.7,156.2C490.6,159.2 490.4,162.3 490.1,165.3C489.8,168.3 489.2,171.8 488.9,174.3C488.6,176.8 488.3,179.4 488.2,180.4" fill="none" stroke="#111" stroke-width="2.3" stroke-linecap="round" stroke-linejoin="round" />
<path d="M484.7,86.3C485.4,85.6 489.9,86.8 490.1,87.3C490.3,87.8 487.1,90.5 486.5,91.5C485.9,92.5 484.6,96.8 484.2,97.0C483.8,97.2 482.8,95.1 482.9,94.0C482.9,92.9 484.0,87.0 484.7,86.3Z" fill="#111" stroke="none"/>
<path d="M505.4,79.7L500.3,80.1" fill="none" stroke="#444" stroke-width="1.38" stroke-linecap="round" stroke-linejoin="round" />
<path d="M500.3,80.1C499.6,80.6 497.4,81.9 496.1,83.1C494.8,84.3 493.4,85.6 492.5,87.3C491.6,89.0 491.3,91.4 491.0,93.4C490.7,95.4 490.6,97.1 490.7,99.4C490.8,101.7 491.2,105.0 491.6,107.3C492.0,109.6 492.6,110.8 493.1,113.3C493.7,115.8 494.5,119.4 494.9,122.0C495.3,124.6 495.3,127.0 495.5,129.0C495.7,131.0 496.0,133.1 496.1,133.9" fill="none" stroke="#111" stroke-width="1.9549999999999998" stroke-linecap="round" stroke-linejoin="round" />
<path d="M505.4,79.7C506.2,79.8 508.4,80.1 510.0,80.5C511.6,80.9 513.4,81.4 515.0,81.9C516.6,82.4 518.4,82.8 519.8,83.7C521.2,84.6 522.4,85.9 523.4,87.3C524.4,88.7 525.3,90.4 525.9,92.2C526.5,94.0 526.8,96.2 527.1,98.2C527.4,100.2 527.6,102.2 527.7,104.2C527.8,106.2 527.8,107.3 527.7,110.3C527.6,113.3 527.2,118.7 527.1,122.0C527.0,125.3 526.9,127.8 526.8,130.0C526.7,132.2 526.5,134.6 526.4,135.5" fill="none" stroke="#111" stroke-width="2.1849999999999996" stroke-linecap="round" stroke-linejoin="round" />
<path d="M505.4,79.7L505.4,83.2" fill="none" stroke="#111" stroke-width="1.38" stroke-linecap="round" stroke-linejoin="round" />
<path d="M496.6,134.7C499.1,135.2 506.6,136.9 511.5,137.6C516.4,138.3 523.8,138.8 526.2,139.1" fill="none" stroke="#111" stroke-width="1.6099999999999999" stroke-linecap="round" stroke-linejoin="round" />
<path d="M497.5,139.1C499.8,139.6 507.0,141.1 511.5,142.0C516.0,142.9 522.5,143.9 524.7,144.3" fill="none" stroke="#111" stroke-width="1.6099999999999999" stroke-linecap="round" stroke-linejoin="round" />
<path d="M496.6,134.7L497.5,139.1" fill="none" stroke="#111" stroke-width="1.38" stroke-linecap="round" stroke-linejoin="round" />
<path d="M522.0,97.8C522.2,98.2 523.6,99.7 524.1,100.4C524.6,101.1 525.4,102.7 525.8,102.9C526.3,103.1 527.3,102.3 527.2,101.9C527.0,101.4 525.5,100.2 524.9,99.6C524.3,99.0 522.8,97.7 522.4,97.4C522.0,97.2 521.8,97.4 522.0,97.8Z" fill="#111" stroke="none"/>
<path d="M517.3,108.1C517.8,108.6 520.5,110.9 521.7,111.9C522.8,112.9 525.3,115.4 526.0,115.8C526.7,116.1 527.5,115.1 527.0,114.4C526.5,113.8 523.6,112.0 522.3,111.1C521.1,110.2 518.2,108.1 517.5,107.7C516.9,107.3 516.7,107.5 517.3,108.1Z" fill="#111" stroke="none"/>
<path d="M516.1,114.0C516.3,114.6 517.6,117.1 518.2,118.2C518.8,119.3 520.2,121.8 520.6,122.2C521.0,122.7 521.6,122.3 521.4,121.8C521.1,121.2 519.4,118.9 518.8,117.8C518.1,116.8 516.7,114.3 516.3,113.8C516.0,113.3 515.8,113.4 516.1,114.0Z" fill="#111" stroke="none"/>
<path d="M488.2,180.4C489.1,180.6 491.0,181.2 493.4,181.5C495.8,181.8 499.8,181.8 502.7,182.2C505.6,182.6 508.7,183.5 510.9,184.0C513.1,184.5 515.1,185.1 516.0,185.3" fill="none" stroke="#111" stroke-width="2.3" stroke-linecap="round" stroke-linejoin="round" />
<path d="M516.0,183.0C516.5,182.5 520.6,182.5 522.0,182.3C523.4,182.1 528.7,181.0 529.5,181.3C530.3,181.6 530.5,184.7 529.8,185.3C529.0,185.9 523.3,186.7 522.0,186.9C520.7,187.1 517.1,187.6 516.5,187.2C515.9,186.8 515.5,183.5 516.0,183.0Z" fill="#111" stroke="none"/>
<path d="M532.7,183.2C533.5,183.4 535.6,181.8 536.7,181.1C537.8,180.5 540.5,178.9 540.8,178.2C541.2,177.6 540.3,176.1 539.6,176.2C538.8,176.2 536.4,178.0 535.3,178.5C534.2,179.0 531.6,179.3 531.3,180.0C530.9,180.6 532.0,183.1 532.7,183.2Z" fill="#111" stroke="none"/>
<path d="M495.4,174.3C495.4,174.8 495.6,176.5 495.6,177.5C495.6,178.5 495.4,179.9 495.4,180.4" fill="none" stroke="#111" stroke-width="1.4949999999999999" stroke-linecap="round" stroke-linejoin="round" />
<path d="M502.7,177.4C502.6,177.8 502.1,178.8 501.9,179.5C501.7,180.2 501.7,181.2 501.6,181.5" fill="none" stroke="#111" stroke-width="1.4949999999999999" stroke-linecap="round" stroke-linejoin="round" />
<path d="M490.3,182.6C489.8,183.5 487.9,186.1 487.2,188.2C486.4,190.3 486.0,192.7 485.8,195.0C485.6,197.3 485.8,199.5 486.0,202.0C486.2,204.5 486.3,206.4 486.9,210.0C487.4,213.6 488.6,218.8 489.3,223.5C490.0,228.2 490.7,234.8 491.2,238.2C491.7,241.6 492.2,243.1 492.4,244.1" fill="none" stroke="#111" stroke-width="2.07" stroke-linecap="round" stroke-linejoin="round" />
<path d="M492.0,205.9L488.4,209.6" fill="none" stroke="#111" stroke-width="1.38" stroke-linecap="round" stroke-linejoin="round" />
<path d="M539.1,183.8C539.3,185.2 540.1,189.3 540.4,192.0C540.6,194.7 540.8,196.5 540.6,200.0C540.4,203.5 539.4,211.0 539.1,213.2" fill="none" stroke="#111" stroke-width="1.7249999999999999" stroke-linecap="round" stroke-linejoin="round" />
<path d="M537.6,223.5C537.4,225.2 536.9,230.6 536.5,234.0C536.1,237.4 535.6,242.4 535.4,244.1" fill="none" stroke="#111" stroke-width="1.6099999999999999" stroke-linecap="round" stroke-linejoin="round" /></g>
</defs>
<use href="#armAm" transform=""/><use href="#armAb" transform=""/>
<use href="#armAm" transform="translate(-0.8,337.5)"/><use href="#armAb" transform="translate(-0.8,337.5)"/>
<use href="#armAm" transform="translate(-0.5,673)"/><use href="#armAb" transform="translate(-0.5,673)"/>
<path d="M254.6,18.9C255.5,20.5 260.1,29.6 261.2,31.1C262.3,32.6 263.7,31.7 262.8,30.1C262.0,28.5 255.9,20.2 254.8,18.7C253.7,17.2 253.8,17.2 254.6,18.9Z" fill="#222" stroke="none"/>
<path d="M262.0,30.6C263.0,32.1 266.5,35.5 268.0,39.4C269.5,43.3 270.2,47.9 270.9,54.0C271.6,60.1 272.0,66.7 272.4,76.0C272.8,85.3 272.8,100.1 273.0,110.0C273.2,119.9 273.1,125.2 273.5,135.3C273.9,145.4 274.7,159.8 275.3,170.6C275.9,181.4 276.3,190.7 277.0,200.0C277.7,209.3 278.4,218.3 279.4,226.5C280.4,234.7 281.8,242.7 283.0,249.4C284.2,256.1 285.5,262.0 286.5,267.0C287.5,272.0 288.3,276.1 289.0,279.4C289.7,282.6 290.6,285.3 290.9,286.5" fill="none" stroke="#111" stroke-width="1.9" stroke-linecap="round" stroke-linejoin="round" />
<path d="M297.1,33.7C296.7,34.1 295.5,34.9 294.7,36.1C293.9,37.3 293.1,38.8 292.5,40.9C291.9,43.0 291.6,46.0 291.3,48.8C291.0,51.6 290.9,54.8 290.7,57.7C290.5,60.7 290.4,63.6 290.3,66.5C290.2,69.4 290.2,71.1 290.2,75.0C290.2,78.9 290.1,85.0 290.2,90.0C290.2,95.0 290.2,100.1 290.5,105.0C290.8,109.9 291.6,115.8 292.0,119.4C292.4,123.0 292.7,123.8 292.9,126.5C293.1,129.2 293.2,132.4 293.4,135.3C293.5,138.2 293.6,141.2 293.8,144.1C294.0,147.0 294.1,149.5 294.3,153.0C294.5,156.5 294.6,159.4 294.9,165.0C295.2,170.6 295.6,177.3 295.9,186.5C296.2,195.7 296.5,212.8 296.8,220.0C297.1,227.2 297.0,226.7 297.5,230.0C298.0,233.3 299.4,237.7 300.0,240.0C300.6,242.3 300.8,242.0 301.1,244.0C301.5,246.0 301.6,249.6 302.1,251.9C302.6,254.2 303.4,256.3 304.2,257.8C305.0,259.3 305.9,260.2 306.9,260.9C307.9,261.6 309.6,261.8 310.1,262.0" fill="none" stroke="#111" stroke-width="1.9" stroke-linecap="round" stroke-linejoin="round" />
<path d="M310.1,262.0C310.7,261.9 312.6,261.3 313.8,261.5C315.0,261.7 316.4,262.2 317.5,263.0C318.6,263.8 319.5,264.9 320.1,266.2C320.7,267.4 320.9,269.1 321.2,270.5C321.5,271.9 321.7,273.4 321.7,274.7C321.7,276.0 321.5,277.2 321.2,278.4C320.9,279.6 320.7,281.0 320.1,282.0C319.5,283.0 318.7,283.7 317.4,284.5C316.1,285.3 314.2,286.1 312.1,286.6C310.0,287.1 307.0,287.5 305.0,287.7C303.0,287.9 301.7,288.0 300.0,287.8C298.3,287.6 296.5,287.1 295.0,286.5C293.5,285.9 291.7,284.4 291.0,284.0" fill="none" stroke="#111" stroke-width="1.8" stroke-linecap="round" stroke-linejoin="round" />
<path d="M311.5,261.5C311.4,261.1 311.1,260.2 311.1,259.3C311.1,258.4 311.2,257.2 311.6,256.2C312.1,255.2 312.8,254.4 313.8,253.5C314.8,252.6 316.3,251.5 317.5,250.9C318.7,250.3 320.1,250.2 321.2,250.1C322.2,250.0 322.9,250.4 323.8,250.3C324.7,250.2 325.5,250.0 326.5,249.6C327.5,249.2 328.6,248.4 329.6,247.7C330.7,247.0 332.0,246.1 332.8,245.6C333.6,245.1 334.3,244.6 334.6,244.4" fill="none" stroke="#111" stroke-width="1.8" stroke-linecap="round" stroke-linejoin="round" />
<path d="M310.6,262.5C311.1,262.9 312.9,264.1 313.8,265.2C314.7,266.3 315.4,267.6 315.9,268.9C316.4,270.2 316.7,271.8 316.9,273.1C317.1,274.4 317.1,275.5 316.9,276.8C316.7,278.1 316.1,280.3 315.9,281.0" fill="none" stroke="#111" stroke-width="1.5" stroke-linecap="round" stroke-linejoin="round" />
<path d="M314.3,254.1C314.9,254.6 316.9,256.1 318.0,257.2C319.1,258.2 319.9,259.2 320.6,260.4C321.3,261.5 321.9,263.2 322.2,264.1C322.5,265.0 322.5,265.7 322.6,266.0" fill="none" stroke="#555" stroke-width="0.9" stroke-linecap="round" stroke-linejoin="round" />
<path d="M323.8,277.6C324.3,277.7 325.9,278.2 327.0,278.2C328.1,278.2 329.4,277.8 330.6,277.4C331.8,277.0 332.9,276.1 334.1,275.6C335.3,275.2 336.4,275.3 337.7,274.7C339.0,274.1 340.2,273.0 342.1,272.1C344.0,271.2 346.8,270.3 349.1,269.4C351.5,268.5 355.0,267.2 356.2,266.8" fill="none" stroke="#111" stroke-width="1.5" stroke-linecap="round" stroke-linejoin="round" />
<path d="M337.0,262.0C337.8,261.4 339.7,259.7 342.0,258.5C344.3,257.3 347.5,256.4 350.6,255.0C353.8,253.7 357.5,252.1 360.9,250.4C364.3,248.7 367.8,246.5 371.2,244.7C374.6,242.9 378.1,241.3 381.5,239.6C384.9,237.9 388.7,235.8 391.8,234.4C394.9,233.0 397.3,232.5 400.0,231.3C402.7,230.1 405.1,228.6 408.0,227.0C410.9,225.4 416.0,222.4 417.6,221.5" fill="none" stroke="#111" stroke-width="1.8" stroke-linecap="round" stroke-linejoin="round" />
<path d="M336.2,264.3C337.3,264.0 340.6,263.0 343.0,262.5C345.4,262.0 347.8,261.6 350.6,261.2C353.4,260.8 356.5,261.1 360.0,259.8C363.5,258.5 367.9,255.9 371.8,253.5C375.7,251.1 379.6,248.0 383.5,245.3C387.4,242.6 391.8,239.6 395.3,237.1C398.8,234.6 402.7,232.0 404.7,230.6C406.7,229.2 407.0,228.8 407.5,228.5" fill="none" stroke="#111" stroke-width="1.3" stroke-linecap="round" stroke-linejoin="round" />
<path d="M370.2,262.2C372.3,260.8 378.7,256.4 383.0,253.5C387.3,250.6 393.8,246.2 395.9,244.7" fill="none" stroke="#333" stroke-width="1.0" stroke-linecap="round" stroke-linejoin="round" />
<path d="M290.3,286.3C290.5,287.1 291.1,289.3 291.3,290.9C291.5,292.5 291.1,294.3 291.3,296.0C291.5,297.7 291.7,299.6 292.4,301.2C293.1,302.8 294.0,304.1 295.4,305.3C296.8,306.5 299.0,307.2 300.6,308.4C302.2,309.6 303.5,311.5 305.0,312.7C306.5,313.9 307.8,314.7 309.4,315.3C311.0,315.9 313.2,316.4 314.7,316.2C316.2,316.0 317.2,315.3 318.2,314.4C319.1,313.5 319.6,311.9 320.4,310.9C321.1,309.9 321.4,309.2 322.7,308.2C323.9,307.2 326.0,305.9 327.9,304.7C329.8,303.5 332.0,302.4 334.1,301.2C336.2,300.0 338.1,299.0 340.3,297.7C342.5,296.4 345.0,295.0 347.4,293.2C349.8,291.4 352.3,288.9 354.4,287.1C356.4,285.4 357.9,284.2 359.7,282.7C361.5,281.2 362.2,280.6 365.0,278.2C367.8,275.8 371.8,271.8 376.3,268.4C380.8,265.0 387.9,260.7 391.8,258.1C395.8,255.5 396.9,255.1 400.0,253.0C403.1,250.9 405.5,248.9 410.6,245.3C415.8,241.7 427.5,233.5 430.9,231.2" fill="none" stroke="#111" stroke-width="1.9" stroke-linecap="round" stroke-linejoin="round" />
<path d="M334.1,300.3C335.1,299.4 338.2,296.5 340.3,295.0C342.4,293.5 344.4,292.8 346.5,291.5C348.6,290.2 351.7,287.8 352.7,287.1" fill="none" stroke="#555" stroke-width="0.9" stroke-linecap="round" stroke-linejoin="round" />
<path d="M319.1,303.0C319.9,302.5 322.2,301.0 324.0,300.0C325.8,299.0 328.8,297.3 329.7,296.8" fill="none" stroke="#555" stroke-width="0.9" stroke-linecap="round" stroke-linejoin="round" />
<path d="M306.8,302.0L313.8,299.4" fill="none" stroke="#555" stroke-width="0.9" stroke-linecap="round" stroke-linejoin="round" />
<path d="M296.5,289.9C297.2,290.2 299.3,291.0 301.0,291.5C302.7,292.0 305.8,292.8 306.8,293.0" fill="none" stroke="#555" stroke-width="0.9" stroke-linecap="round" stroke-linejoin="round" />
<path d="M323.8,253.5C324.7,253.3 326.9,252.7 329.1,252.2C331.3,251.7 334.5,251.2 337.1,250.4C339.8,249.6 343.7,247.9 345.0,247.4" fill="none" stroke="#555" stroke-width="0.9" stroke-linecap="round" stroke-linejoin="round" />
<path d="M330.0,249.9L336.2,247.8" fill="none" stroke="#555" stroke-width="0.9" stroke-linecap="round" stroke-linejoin="round" />
<path d="M327.4,257.5L333.0,256.0" fill="none" stroke="#555" stroke-width="0.9" stroke-linecap="round" stroke-linejoin="round" />
<path d="M291.8,230.0C292.4,232.7 293.8,241.5 295.3,245.9C296.8,250.3 299.7,254.7 300.6,256.5" fill="none" stroke="#555" stroke-width="0.9" stroke-linecap="round" stroke-linejoin="round" />
<path d="M288.2,240.6C288.9,242.7 291.0,250.1 292.6,253.0C294.2,255.9 297.1,257.3 298.0,258.2" fill="none" stroke="#555" stroke-width="0.9" stroke-linecap="round" stroke-linejoin="round" />
<path d="M295.3,267.0C295.1,268.2 294.2,272.2 294.4,274.0C294.5,275.8 295.9,277.0 296.2,277.6" fill="none" stroke="#555" stroke-width="0.9" stroke-linecap="round" stroke-linejoin="round" />
<path d="M296.0,296.0L302.0,297.0" fill="none" stroke="#555" stroke-width="0.9" stroke-linecap="round" stroke-linejoin="round" />
<path d="M302.0,303.0L310.0,303.5" fill="none" stroke="#555" stroke-width="0.9" stroke-linecap="round" stroke-linejoin="round" />
<path d="M356.8,239.1C359.2,238.2 365.7,236.2 371.2,233.4C376.7,230.6 386.6,224.0 389.7,222.1" fill="none" stroke="#555" stroke-width="0.9" stroke-linecap="round" stroke-linejoin="round" />
<path d="M344.2,241.6C345.3,241.4 348.8,239.3 351.0,238.5C353.2,237.6 357.6,236.4 360.4,235.1C363.3,233.7 369.1,230.2 372.3,228.5C375.4,226.9 380.9,224.4 384.0,222.7C387.1,221.1 393.1,217.7 395.8,216.2C398.5,214.8 402.3,213.1 404.4,212.0C406.6,210.8 410.9,208.4 411.9,207.8C412.9,207.2 412.8,207.1 411.7,207.4C410.6,207.7 405.8,209.1 403.6,210.0C401.3,211.0 397.5,212.9 394.8,214.4C392.1,215.8 386.1,219.2 383.0,220.9C379.9,222.5 374.4,225.0 371.3,226.7C368.2,228.3 362.4,231.8 359.6,233.1C356.7,234.5 352.4,235.7 350.2,236.5C348.1,237.4 344.2,239.0 343.4,239.6C342.6,240.3 343.2,241.7 344.2,241.6Z" fill="#111" stroke="none"/>
<path d="M303.0,18.6C302.9,18.9 302.8,20.4 302.7,21.1C302.6,21.8 302.2,23.7 302.4,24.1C302.5,24.5 303.7,24.5 303.9,24.1C304.0,23.7 303.6,21.8 303.5,21.1C303.4,20.4 303.3,18.9 303.2,18.6C303.1,18.3 303.1,18.3 303.0,18.6Z" fill="#666" stroke="none"/>
<linearGradient id="gB" gradientUnits="userSpaceOnUse" x1="0" y1="22" x2="0" y2="245"><stop offset="0" stop-color="#F4D0C4"/><stop offset="0.05" stop-color="#EBA184"/><stop offset="0.09" stop-color="#E3826A"/><stop offset="0.717" stop-color="#E3826A"/><stop offset="0.758" stop-color="#EBA085"/><stop offset="0.797" stop-color="#F3CDB8"/><stop offset="0.836" stop-color="#F8E6D8"/><stop offset="1" stop-color="#FAF2E8"/></linearGradient>
<path d="M303.1,23.6C303.5,23.7 303.4,25.7 303.6,26.7C303.7,27.7 303.9,28.7 304.1,29.7C304.3,30.7 304.5,31.7 304.8,32.7C305.0,33.7 305.2,34.7 305.5,35.7C305.8,36.7 306.1,37.7 306.4,38.6C306.7,39.6 307.0,40.6 307.3,41.5C307.7,42.5 308.1,43.4 308.5,44.3C308.9,45.2 309.3,46.2 309.7,47.1C310.2,48.0 310.7,48.9 311.2,49.8C311.7,50.6 312.2,51.5 312.7,52.4C313.3,53.2 313.9,54.1 314.4,54.9C315.0,55.8 315.6,56.6 316.2,57.5C316.8,58.3 317.4,59.2 318.0,60.0C318.6,60.8 319.2,61.7 319.8,62.5C320.4,63.4 321.0,64.2 321.6,65.1C322.1,65.9 322.7,66.8 323.2,67.7C323.8,68.5 324.3,69.4 324.8,70.3C325.3,71.2 325.8,72.1 326.3,73.0C326.7,73.9 327.2,74.8 327.6,75.8C328.0,76.7 328.4,77.6 328.8,78.5C329.2,79.5 329.6,80.4 330.0,81.4C330.3,82.3 330.7,83.3 331.0,84.2C331.3,85.2 331.6,86.2 331.9,87.1C332.2,88.1 332.5,89.1 332.8,90.1C333.0,91.1 333.3,92.1 333.5,93.1C333.8,94.0 334.0,95.0 334.2,96.0C334.4,97.1 334.6,98.1 334.8,99.1C334.9,100.1 335.1,101.1 335.3,102.1C335.4,103.1 335.6,104.1 335.7,105.2C335.8,106.2 335.9,107.2 336.0,108.2C336.1,109.2 336.2,110.3 336.3,111.3C336.4,112.3 336.4,113.4 336.5,114.4C336.5,115.4 336.6,116.4 336.6,117.5C336.6,118.5 336.6,119.5 336.7,120.6C336.7,121.6 336.7,122.6 336.7,123.6C336.7,124.7 336.6,125.7 336.6,126.7C336.6,127.8 336.5,128.8 336.5,129.8C336.4,130.8 336.4,131.8 336.3,132.9C336.3,133.9 336.2,134.9 336.1,135.9C336.0,136.9 336.0,138.0 335.9,139.0C335.8,140.0 335.7,141.0 335.6,142.0C335.5,143.0 335.4,144.1 335.3,145.1C335.2,146.1 335.1,147.1 335.0,148.1C334.9,149.1 334.8,150.2 334.6,151.2C334.5,152.2 334.4,153.2 334.3,154.2C334.2,155.2 334.1,156.3 334.0,157.3C333.8,158.3 333.7,159.3 333.6,160.3C333.5,161.4 333.4,162.4 333.3,163.4C333.2,164.4 333.1,165.4 333.0,166.5C332.9,167.5 332.8,168.5 332.7,169.5C332.6,170.6 332.6,171.6 332.5,172.6C332.4,173.6 332.4,174.6 332.3,175.7C332.3,176.7 332.3,177.7 332.3,178.7C332.2,179.8 332.2,180.8 332.3,181.8C332.3,182.8 332.3,183.8 332.4,184.8C332.4,185.9 332.5,186.9 332.6,187.9C332.7,188.9 332.8,189.9 332.9,190.9C333.1,191.9 333.2,193.0 333.4,194.0C333.5,195.0 333.7,196.0 333.9,197.0C334.1,198.0 334.3,199.0 334.5,200.0C334.7,201.0 334.9,202.0 335.1,203.0C335.3,204.0 335.5,205.0 335.8,206.0C336.0,207.0 336.2,208.0 336.5,209.0C336.7,210.0 336.9,211.0 337.2,212.0C337.4,213.0 337.6,214.0 337.9,215.0C338.1,216.0 338.3,217.0 338.6,218.0C338.8,219.0 339.0,220.0 339.2,221.0C339.4,222.0 339.7,223.0 339.9,224.0C340.1,225.0 340.3,226.0 340.5,227.0C340.7,228.0 340.9,229.0 341.1,230.0C341.3,231.0 341.5,232.0 341.7,233.0C341.9,234.0 342.1,235.0 342.3,236.0C342.5,237.1 342.7,238.1 342.9,239.1C343.1,240.1 344.9,241.7 343.4,242.1C341.9,242.5 335.5,242.1 333.8,241.5C332.0,240.9 333.3,239.6 333.0,238.6C332.8,237.6 332.5,236.6 332.3,235.6C332.0,234.6 331.8,233.6 331.6,232.6C331.4,231.6 331.2,230.6 330.9,229.6C330.7,228.6 330.5,227.5 330.3,226.5C330.1,225.5 329.9,224.5 329.7,223.5C329.5,222.5 329.3,221.5 329.1,220.5C328.9,219.5 328.7,218.5 328.5,217.5C328.3,216.5 328.1,215.4 327.9,214.4C327.7,213.4 327.5,212.4 327.3,211.4C327.1,210.4 326.9,209.4 326.7,208.4C326.5,207.4 326.3,206.4 326.0,205.4C325.8,204.4 325.6,203.4 325.3,202.4C325.1,201.4 324.9,200.4 324.6,199.4C324.4,198.4 324.1,197.4 323.9,196.5C323.6,195.5 323.3,194.5 323.0,193.5C322.7,192.5 322.4,191.5 322.1,190.6C321.8,189.6 321.5,188.6 321.2,187.7C320.9,186.7 320.5,185.7 320.2,184.8C319.8,183.8 319.4,182.9 319.1,181.9C318.7,180.9 318.3,180.0 317.9,179.1C317.5,178.1 317.1,177.2 316.7,176.2C316.2,175.3 315.8,174.3 315.4,173.4C315.0,172.5 314.5,171.5 314.1,170.6C313.6,169.7 313.2,168.7 312.7,167.8C312.3,166.9 311.8,166.0 311.4,165.0C310.9,164.1 310.4,163.2 310.0,162.3C309.5,161.3 309.0,160.4 308.6,159.5C308.1,158.6 307.6,157.6 307.2,156.7C306.7,155.8 306.2,154.9 305.8,153.9C305.3,153.0 304.9,152.1 304.4,151.2C303.9,150.2 303.5,149.3 303.0,148.4C302.6,147.4 302.2,146.5 301.7,145.6C301.3,144.6 300.9,143.7 300.5,142.8C300.0,141.8 299.6,140.9 299.2,140.0C298.8,139.0 298.4,138.1 298.1,137.1C297.7,136.2 297.3,135.2 296.9,134.3C296.6,133.3 296.2,132.4 295.9,131.4C295.6,130.4 295.3,129.5 295.0,128.5C294.7,127.5 294.4,126.6 294.1,125.6C293.8,124.6 293.6,123.6 293.3,122.6C293.1,121.6 292.9,120.7 292.6,119.7C292.4,118.7 292.2,117.7 292.1,116.7C291.9,115.7 291.7,114.7 291.6,113.7C291.4,112.6 291.3,111.6 291.1,110.6C291.0,109.6 290.9,108.6 290.8,107.6C290.7,106.6 290.6,105.5 290.5,104.5C290.5,103.5 290.4,102.5 290.4,101.4C290.3,100.4 290.3,99.4 290.3,98.4C290.2,97.3 290.2,96.3 290.2,95.3C290.2,94.2 290.2,93.2 290.3,92.2C290.3,91.1 290.3,90.1 290.4,89.1C290.4,88.1 290.5,87.0 290.5,86.0C290.6,85.0 290.7,83.9 290.7,82.9C290.8,81.9 290.9,80.8 291.0,79.8C291.1,78.8 291.3,77.8 291.4,76.7C291.5,75.7 291.6,74.7 291.8,73.7C291.9,72.6 292.1,71.6 292.2,70.6C292.4,69.6 292.5,68.6 292.7,67.6C292.9,66.5 293.1,65.5 293.2,64.5C293.4,63.5 293.6,62.5 293.8,61.5C294.0,60.5 294.2,59.5 294.4,58.5C294.6,57.5 294.8,56.5 295.0,55.5C295.2,54.5 295.4,53.5 295.6,52.5C295.7,51.5 295.9,50.5 296.1,49.5C296.3,48.5 296.4,47.5 296.6,46.5C296.7,45.5 296.9,44.5 297.0,43.5C297.1,42.4 297.2,41.4 297.3,40.4C297.4,39.4 297.5,38.4 297.5,37.4C297.6,36.3 297.6,35.3 297.7,34.3C297.7,33.3 297.5,32.2 297.7,31.2C298.0,30.2 298.4,29.3 299.0,28.5C299.6,27.6 300.6,26.9 301.3,26.0C302.0,25.2 302.7,23.5 303.1,23.6Z" fill="url(#gB)" stroke="none"/>
<path d="M298.4,38.0C298.2,39.8 298.0,45.2 297.7,48.8C297.3,52.4 296.9,55.9 296.5,59.5C296.2,63.1 295.8,66.7 295.5,70.3C295.2,73.9 295.0,77.5 294.8,81.1C294.7,84.7 294.5,88.3 294.6,91.8C294.6,95.4 294.7,99.0 294.9,102.6C295.2,106.2 295.5,109.8 296.0,113.4C296.5,117.0 297.2,120.6 298.0,124.2C298.9,127.7 299.9,131.3 301.1,134.9C302.3,138.5 303.7,142.1 305.1,145.7C306.6,149.3 308.2,152.9 309.7,156.5C311.3,160.1 313.0,163.6 314.5,167.2C316.0,170.8 318.2,176.2 318.9,178.0" fill="none" stroke="#F29A7E" stroke-width="1.1" stroke-linecap="round" opacity="0.9"/>
<path d="M300.4,38.0C300.5,39.8 300.7,45.2 301.0,48.8C301.2,52.4 301.6,55.9 301.9,59.5C302.3,63.1 302.7,66.7 303.0,70.3C303.3,73.9 303.5,77.5 303.8,81.1C304.0,84.7 304.2,88.3 304.4,91.8C304.7,95.4 304.9,99.0 305.3,102.6C305.6,106.2 305.9,109.8 306.3,113.4C306.8,117.0 307.3,120.6 307.9,124.2C308.5,127.7 309.2,131.3 310.1,134.9C310.9,138.5 311.8,142.1 312.8,145.7C313.8,149.3 314.9,152.9 316.0,156.5C317.0,160.1 318.1,163.6 319.2,167.2C320.3,170.8 321.8,176.2 322.3,178.0" fill="none" stroke="#EE9478" stroke-width="1.0" stroke-linecap="round" opacity="0.8"/>
<path d="M301.6,38.0C301.8,39.8 302.4,45.2 303.0,48.8C303.6,52.4 304.5,55.9 305.2,59.5C306.0,63.1 306.9,66.7 307.5,70.3C308.2,73.9 308.7,77.5 309.2,81.1C309.7,84.7 310.1,88.3 310.5,91.8C310.8,95.4 311.2,99.0 311.5,102.6C311.9,106.2 312.2,109.8 312.6,113.4C313.0,117.0 313.4,120.6 313.9,124.2C314.4,127.7 314.9,131.3 315.5,134.9C316.1,138.5 316.8,142.1 317.5,145.7C318.2,149.3 319.0,152.9 319.7,156.5C320.5,160.1 321.3,163.6 322.1,167.2C322.8,170.8 324.0,176.2 324.4,178.0" fill="none" stroke="#D06B54" stroke-width="0.9" stroke-linecap="round" opacity="0.45"/>
<path d="M302.9,38.0C303.3,39.8 304.2,45.2 305.2,48.8C306.1,52.4 307.5,55.9 308.7,59.5C310.0,63.1 311.4,66.7 312.4,70.3C313.5,73.9 314.3,77.5 315.1,81.1C315.8,84.7 316.4,88.3 316.9,91.8C317.4,95.4 317.9,99.0 318.3,102.6C318.7,106.2 319.0,109.8 319.4,113.4C319.7,117.0 320.0,120.6 320.3,124.2C320.7,127.7 321.0,131.3 321.4,134.9C321.7,138.5 322.1,142.1 322.5,145.7C322.9,149.3 323.4,152.9 323.8,156.5C324.2,160.1 324.7,163.6 325.1,167.2C325.6,170.8 326.4,176.2 326.6,178.0" fill="none" stroke="#EE9579" stroke-width="1.0" stroke-linecap="round" opacity="0.75"/>
<path d="M305.0,38.0C305.6,39.8 307.0,45.2 308.6,48.8C310.2,52.4 312.4,55.9 314.4,59.5C316.3,63.1 318.6,66.7 320.2,70.3C321.9,73.9 323.2,77.5 324.4,81.1C325.6,84.7 326.4,88.3 327.2,91.8C328.0,95.4 328.6,99.0 329.0,102.6C329.5,106.2 329.9,109.8 330.1,113.4C330.4,117.0 330.5,120.6 330.6,124.2C330.7,127.7 330.7,131.3 330.7,134.9C330.7,138.5 330.6,142.1 330.6,145.7C330.5,149.3 330.4,152.9 330.3,156.5C330.2,160.1 330.1,163.6 330.1,167.2C330.0,170.8 330.2,176.2 330.2,178.0" fill="none" stroke="#F29A7E" stroke-width="1.0" stroke-linecap="round" opacity="0.85"/>
<path d="M303.1,23.6C303.2,24.1 303.4,25.7 303.6,26.7C303.7,27.7 303.9,28.7 304.1,29.7C304.3,30.7 304.5,31.7 304.8,32.7C305.0,33.7 305.2,34.7 305.5,35.7C305.8,36.7 306.1,37.7 306.4,38.6C306.7,39.6 307.0,40.6 307.3,41.5C307.7,42.5 308.1,43.4 308.5,44.3C308.9,45.2 309.3,46.2 309.7,47.1C310.2,48.0 310.7,48.9 311.2,49.8C311.7,50.6 312.2,51.5 312.7,52.4C313.3,53.2 313.9,54.1 314.4,54.9C315.0,55.8 315.6,56.6 316.2,57.5C316.8,58.3 317.4,59.2 318.0,60.0C318.6,60.8 319.2,61.7 319.8,62.5C320.4,63.4 321.0,64.2 321.6,65.1C322.1,65.9 322.7,66.8 323.2,67.7C323.8,68.5 324.3,69.4 324.8,70.3C325.3,71.2 325.8,72.1 326.3,73.0C326.7,73.9 327.2,74.8 327.6,75.8C328.0,76.7 328.4,77.6 328.8,78.5C329.2,79.5 329.6,80.4 330.0,81.4C330.3,82.3 330.7,83.3 331.0,84.2C331.3,85.2 331.6,86.2 331.9,87.1C332.2,88.1 332.5,89.1 332.8,90.1C333.0,91.1 333.3,92.1 333.5,93.1C333.8,94.0 334.0,95.0 334.2,96.0C334.4,97.1 334.6,98.1 334.8,99.1C334.9,100.1 335.1,101.1 335.3,102.1C335.4,103.1 335.6,104.1 335.7,105.2C335.8,106.2 335.9,107.2 336.0,108.2C336.1,109.2 336.2,110.3 336.3,111.3C336.4,112.3 336.4,113.4 336.5,114.4C336.5,115.4 336.6,116.4 336.6,117.5C336.6,118.5 336.6,119.5 336.7,120.6C336.7,121.6 336.7,122.6 336.7,123.6C336.7,124.7 336.6,125.7 336.6,126.7C336.6,127.8 336.5,128.8 336.5,129.8C336.4,130.8 336.4,131.8 336.3,132.9C336.3,133.9 336.2,134.9 336.1,135.9C336.0,136.9 336.0,138.0 335.9,139.0C335.8,140.0 335.7,141.0 335.6,142.0C335.5,143.0 335.4,144.1 335.3,145.1C335.2,146.1 335.1,147.1 335.0,148.1C334.9,149.1 334.8,150.2 334.6,151.2C334.5,152.2 334.4,153.2 334.3,154.2C334.2,155.2 334.1,156.3 334.0,157.3C333.8,158.3 333.7,159.3 333.6,160.3C333.5,161.4 333.4,162.4 333.3,163.4C333.2,164.4 333.1,165.4 333.0,166.5C332.9,167.5 332.8,168.5 332.7,169.5C332.6,170.6 332.6,171.6 332.5,172.6C332.4,173.6 332.4,174.6 332.3,175.7C332.3,176.7 332.3,177.7 332.3,178.7C332.2,179.8 332.2,180.8 332.3,181.8C332.3,182.8 332.3,183.8 332.4,184.8C332.4,185.9 332.5,186.9 332.6,187.9C332.7,188.9 332.8,189.9 332.9,190.9C333.1,191.9 333.2,193.0 333.4,194.0C333.5,195.0 333.7,196.0 333.9,197.0C334.1,198.0 334.3,199.0 334.5,200.0C334.7,201.0 334.9,202.0 335.1,203.0C335.3,204.0 335.5,205.0 335.8,206.0C336.0,207.0 336.2,208.0 336.5,209.0C336.7,210.0 336.9,211.0 337.2,212.0C337.4,213.0 337.6,214.0 337.9,215.0C338.1,216.0 338.3,217.0 338.6,218.0C338.8,219.0 339.0,220.0 339.2,221.0C339.4,222.0 339.7,223.0 339.9,224.0C340.1,225.0 340.3,226.0 340.5,227.0C340.7,228.0 340.9,229.0 341.1,230.0C341.3,231.0 341.5,232.0 341.7,233.0C341.9,234.0 342.1,235.0 342.3,236.0C342.5,237.1 342.7,238.1 342.9,239.1C343.1,240.1 343.3,241.6 343.4,242.1" fill="none" stroke="#111" stroke-width="2.1" stroke-linecap="round" stroke-linejoin="round" />
<path d="M334.6,244.5C334.5,244.0 334.0,242.5 333.8,241.5C333.5,240.5 333.3,239.6 333.0,238.6C332.8,237.6 332.5,236.6 332.3,235.6C332.0,234.6 331.8,233.6 331.6,232.6C331.4,231.6 331.2,230.6 330.9,229.6C330.7,228.6 330.5,227.5 330.3,226.5C330.1,225.5 329.9,224.5 329.7,223.5C329.5,222.5 329.3,221.5 329.1,220.5C328.9,219.5 328.7,218.5 328.5,217.5C328.3,216.5 328.1,215.4 327.9,214.4C327.7,213.4 327.5,212.4 327.3,211.4C327.1,210.4 326.9,209.4 326.7,208.4C326.5,207.4 326.3,206.4 326.0,205.4C325.8,204.4 325.6,203.4 325.3,202.4C325.1,201.4 324.9,200.4 324.6,199.4C324.4,198.4 324.1,197.4 323.9,196.5C323.6,195.5 323.3,194.5 323.0,193.5C322.7,192.5 322.4,191.5 322.1,190.6C321.8,189.6 321.5,188.6 321.2,187.7C320.9,186.7 320.5,185.7 320.2,184.8C319.8,183.8 319.4,182.9 319.1,181.9C318.7,180.9 318.3,180.0 317.9,179.1C317.5,178.1 317.1,177.2 316.7,176.2C316.2,175.3 315.8,174.3 315.4,173.4C315.0,172.5 314.5,171.5 314.1,170.6C313.6,169.7 313.2,168.7 312.7,167.8C312.3,166.9 311.8,166.0 311.4,165.0C310.9,164.1 310.4,163.2 310.0,162.3C309.5,161.3 309.0,160.4 308.6,159.5C308.1,158.6 307.6,157.6 307.2,156.7C306.7,155.8 306.2,154.9 305.8,153.9C305.3,153.0 304.9,152.1 304.4,151.2C303.9,150.2 303.5,149.3 303.0,148.4C302.6,147.4 302.2,146.5 301.7,145.6C301.3,144.6 300.9,143.7 300.5,142.8C300.0,141.8 299.6,140.9 299.2,140.0C298.8,139.0 298.4,138.1 298.1,137.1C297.7,136.2 297.3,135.2 296.9,134.3C296.6,133.3 296.2,132.4 295.9,131.4C295.6,130.4 295.3,129.5 295.0,128.5C294.7,127.5 294.4,126.6 294.1,125.6C293.8,124.6 293.6,123.6 293.3,122.6C293.1,121.6 292.9,120.7 292.6,119.7C292.4,118.7 292.2,117.7 292.1,116.7C291.9,115.7 291.7,114.7 291.6,113.7C291.4,112.6 291.3,111.6 291.1,110.6C291.0,109.6 290.9,108.6 290.8,107.6C290.7,106.6 290.6,105.5 290.5,104.5C290.5,103.5 290.4,102.5 290.4,101.4C290.3,100.4 290.3,99.4 290.3,98.4C290.2,97.3 290.2,96.3 290.2,95.3C290.2,94.2 290.2,93.2 290.3,92.2C290.3,91.1 290.3,90.1 290.4,89.1C290.4,88.1 290.5,87.0 290.5,86.0C290.6,85.0 290.7,83.9 290.7,82.9C290.8,81.9 290.9,80.8 291.0,79.8C291.1,78.8 291.3,77.8 291.4,76.7C291.5,75.7 291.6,74.7 291.8,73.7C291.9,72.6 292.1,71.6 292.2,70.6C292.4,69.6 292.5,68.6 292.7,67.6C292.9,66.5 293.1,65.5 293.2,64.5C293.4,63.5 293.6,62.5 293.8,61.5C294.0,60.5 294.2,59.5 294.4,58.5C294.6,57.5 294.8,56.5 295.0,55.5C295.2,54.5 295.4,53.5 295.6,52.5C295.7,51.5 295.9,50.5 296.1,49.5C296.3,48.5 296.4,47.5 296.6,46.5C296.7,45.5 296.9,44.5 297.0,43.5C297.1,42.4 297.2,41.4 297.3,40.4C297.4,39.4 297.5,38.4 297.5,37.4C297.6,36.3 297.6,35.3 297.7,34.3C297.7,33.3 297.5,32.2 297.7,31.2C298.0,30.2 298.4,29.3 299.0,28.5C299.6,27.6 300.6,26.9 301.3,26.0C302.0,25.2 302.8,24.0 303.1,23.6" fill="none" stroke="#111" stroke-width="2.0" stroke-linecap="round" stroke-linejoin="round" />
<path d="M300.2,355.0C300.1,355.3 300.0,356.8 299.9,357.5C299.8,358.2 299.4,360.1 299.6,360.5C299.7,360.9 300.9,360.9 301.1,360.5C301.2,360.1 300.8,358.2 300.7,357.5C300.6,356.8 300.5,355.3 300.4,355.0C300.3,354.7 300.3,354.7 300.2,355.0Z" fill="#666" stroke="none"/>
<linearGradient id="gC" gradientUnits="userSpaceOnUse" x1="0" y1="357" x2="0" y2="628"><stop offset="0" stop-color="#FDF6F0"/><stop offset="0.096" stop-color="#FAE8DD"/><stop offset="0.113" stop-color="#F3C4AE"/><stop offset="0.129" stop-color="#E3826A"/><stop offset="0.726" stop-color="#E3826A"/><stop offset="0.759" stop-color="#EBA085"/><stop offset="0.792" stop-color="#F3CDB8"/><stop offset="0.823" stop-color="#F8E6D8"/><stop offset="1" stop-color="#FAF2E8"/></linearGradient>
<path d="M300.3,360.0C300.6,360.0 300.6,362.0 300.7,363.0C300.9,364.0 301.1,365.0 301.2,366.0C301.4,367.0 301.6,368.0 301.8,369.0C302.0,370.0 302.2,371.0 302.4,372.0C302.6,373.0 302.9,374.0 303.1,375.0C303.3,376.0 303.6,376.9 303.9,377.9C304.1,378.9 304.4,379.9 304.7,380.8C305.0,381.8 305.3,382.7 305.6,383.7C306.0,384.6 306.3,385.6 306.7,386.5C307.0,387.5 307.4,388.4 307.8,389.3C308.2,390.3 308.5,391.2 308.9,392.1C309.3,393.1 309.8,394.0 310.2,394.9C310.6,395.8 311.0,396.7 311.5,397.7C311.9,398.6 312.3,399.5 312.8,400.4C313.2,401.3 313.7,402.2 314.1,403.1C314.6,404.0 315.0,404.9 315.5,405.8C315.9,406.8 316.4,407.7 316.8,408.6C317.2,409.5 317.7,410.4 318.1,411.3C318.6,412.2 319.0,413.2 319.4,414.1C319.9,415.0 320.3,415.9 320.7,416.8C321.1,417.8 321.5,418.7 322.0,419.6C322.4,420.6 322.8,421.5 323.2,422.4C323.6,423.4 324.0,424.3 324.3,425.2C324.7,426.2 325.1,427.1 325.5,428.1C325.9,429.0 326.2,430.0 326.6,430.9C326.9,431.8 327.3,432.8 327.7,433.8C328.0,434.7 328.3,435.7 328.7,436.6C329.0,437.6 329.3,438.5 329.7,439.5C330.0,440.5 330.3,441.4 330.6,442.4C330.9,443.3 331.2,444.3 331.5,445.3C331.8,446.3 332.1,447.2 332.4,448.2C332.6,449.2 332.9,450.1 333.2,451.1C333.4,452.1 333.7,453.1 333.9,454.1C334.2,455.0 334.4,456.0 334.6,457.0C334.9,458.0 335.1,459.0 335.3,460.0C335.5,461.0 335.7,461.9 335.9,462.9C336.1,463.9 336.3,464.9 336.5,465.9C336.6,466.9 336.8,467.9 337.0,468.9C337.1,469.9 337.3,470.9 337.4,471.9C337.5,472.9 337.7,473.9 337.8,474.9C337.9,475.9 338.0,476.9 338.1,477.9C338.2,478.9 338.3,479.9 338.4,480.9C338.5,482.0 338.6,483.0 338.7,484.0C338.7,485.0 338.8,486.0 338.9,487.0C338.9,488.0 339.0,489.0 339.0,490.1C339.1,491.1 339.1,492.1 339.1,493.1C339.2,494.1 339.2,495.1 339.2,496.2C339.3,497.2 339.3,498.2 339.3,499.2C339.3,500.2 339.4,501.2 339.4,502.3C339.4,503.3 339.4,504.3 339.4,505.3C339.4,506.3 339.5,507.3 339.5,508.4C339.5,509.4 339.5,510.4 339.5,511.4C339.5,512.4 339.5,513.4 339.6,514.5C339.6,515.5 339.6,516.5 339.6,517.5C339.6,518.5 339.6,519.5 339.7,520.5C339.7,521.6 339.7,522.6 339.7,523.6C339.7,524.6 339.8,525.6 339.8,526.6C339.8,527.6 339.8,528.6 339.9,529.6C339.9,530.7 339.9,531.7 339.9,532.7C339.9,533.7 340.0,534.7 340.0,535.7C340.0,536.7 340.0,537.7 340.0,538.8C340.1,539.8 340.1,540.8 340.1,541.8C340.1,542.8 340.2,543.8 340.2,544.8C340.2,545.9 340.3,546.9 340.3,547.9C340.3,548.9 340.4,549.9 340.4,550.9C340.5,551.9 340.5,552.9 340.6,553.9C340.7,555.0 340.8,556.0 340.8,557.0C340.9,558.0 341.0,559.0 341.1,560.0C341.2,561.0 341.3,562.0 341.5,563.0C341.6,564.0 341.7,565.0 341.9,566.0C342.1,567.0 342.2,568.0 342.4,569.0C342.6,570.0 342.7,571.0 342.9,572.0C343.1,573.0 343.3,573.9 343.5,574.9C343.7,575.9 343.9,576.9 344.2,577.9C344.4,578.9 344.6,579.9 344.8,580.9C345.0,581.9 345.3,582.8 345.5,583.8C345.7,584.8 345.9,585.8 346.2,586.8C346.4,587.8 346.6,588.8 346.9,589.8C347.1,590.8 347.3,591.7 347.6,592.7C347.8,593.7 348.0,594.7 348.2,595.7C348.4,596.7 348.6,597.7 348.9,598.7C349.1,599.7 349.3,600.7 349.5,601.7C349.7,602.6 349.9,603.6 350.1,604.6C350.2,605.6 350.4,606.6 350.6,607.6C350.8,608.6 351.0,609.6 351.2,610.6C351.4,611.6 351.6,612.6 351.7,613.6C351.9,614.6 352.1,615.6 352.3,616.6C352.5,617.6 352.7,618.6 352.9,619.6C353.1,620.6 353.3,621.6 353.4,622.5C353.6,623.5 353.9,624.5 354.1,625.5C354.3,626.5 356.0,628.5 354.7,628.5C353.4,628.5 347.9,626.5 346.4,625.5C345.0,624.4 346.1,623.4 346.0,622.4C345.8,621.4 345.7,620.4 345.5,619.4C345.4,618.4 345.2,617.4 345.0,616.4C344.9,615.3 344.7,614.3 344.5,613.3C344.3,612.3 344.1,611.3 343.9,610.3C343.8,609.3 343.6,608.3 343.4,607.3C343.2,606.3 343.0,605.3 342.8,604.3C342.6,603.3 342.3,602.3 342.1,601.3C341.9,600.3 341.7,599.3 341.5,598.3C341.2,597.3 341.0,596.3 340.8,595.3C340.6,594.3 340.3,593.4 340.1,592.4C339.8,591.4 339.6,590.4 339.4,589.4C339.1,588.4 338.9,587.4 338.6,586.4C338.4,585.4 338.1,584.4 337.9,583.4C337.6,582.5 337.3,581.5 337.1,580.5C336.8,579.5 336.5,578.5 336.3,577.5C336.0,576.5 335.7,575.6 335.5,574.6C335.2,573.6 334.9,572.6 334.6,571.6C334.4,570.6 334.1,569.7 333.8,568.7C333.5,567.7 333.2,566.7 332.9,565.7C332.7,564.8 332.4,563.8 332.1,562.8C331.8,561.8 331.5,560.8 331.2,559.9C330.9,558.9 330.6,557.9 330.3,556.9C330.0,556.0 329.7,555.0 329.4,554.0C329.1,553.0 328.8,552.0 328.5,551.1C328.2,550.1 327.9,549.1 327.6,548.2C327.3,547.2 327.0,546.2 326.7,545.2C326.4,544.3 326.1,543.3 325.7,542.3C325.4,541.4 325.1,540.4 324.8,539.4C324.4,538.4 324.1,537.5 323.8,536.5C323.5,535.5 323.1,534.6 322.8,533.6C322.5,532.6 322.1,531.7 321.8,530.7C321.4,529.8 321.1,528.8 320.7,527.8C320.4,526.9 320.0,525.9 319.7,525.0C319.3,524.0 319.0,523.0 318.6,522.1C318.2,521.1 317.9,520.2 317.5,519.2C317.1,518.3 316.8,517.3 316.4,516.3C316.0,515.4 315.7,514.4 315.3,513.5C314.9,512.5 314.6,511.6 314.2,510.6C313.8,509.7 313.5,508.7 313.1,507.8C312.7,506.8 312.4,505.8 312.0,504.9C311.7,503.9 311.3,503.0 311.0,502.0C310.6,501.0 310.3,500.1 309.9,499.1C309.6,498.2 309.2,497.2 308.9,496.2C308.6,495.3 308.3,494.3 307.9,493.3C307.6,492.4 307.3,491.4 307.0,490.4C306.7,489.4 306.4,488.5 306.1,487.5C305.8,486.5 305.6,485.5 305.3,484.5C305.0,483.6 304.8,482.6 304.5,481.6C304.2,480.6 304.0,479.6 303.8,478.6C303.5,477.6 303.3,476.6 303.1,475.6C302.8,474.6 302.6,473.6 302.4,472.7C302.2,471.7 302.0,470.7 301.8,469.7C301.6,468.7 301.4,467.6 301.2,466.6C301.1,465.6 300.9,464.6 300.7,463.6C300.5,462.6 300.4,461.6 300.2,460.6C300.1,459.6 299.9,458.6 299.8,457.6C299.6,456.6 299.5,455.5 299.4,454.5C299.3,453.5 299.1,452.5 299.0,451.5C298.9,450.5 298.8,449.5 298.7,448.4C298.6,447.4 298.5,446.4 298.4,445.4C298.3,444.4 298.3,443.4 298.2,442.3C298.1,441.3 298.0,440.3 298.0,439.3C297.9,438.3 297.8,437.2 297.8,436.2C297.7,435.2 297.7,434.2 297.7,433.2C297.6,432.1 297.6,431.1 297.6,430.1C297.5,429.1 297.5,428.0 297.5,427.0C297.5,426.0 297.4,425.0 297.4,424.0C297.4,422.9 297.4,421.9 297.4,420.9C297.4,419.9 297.4,418.9 297.5,417.8C297.5,416.8 297.5,415.8 297.5,414.8C297.5,413.8 297.5,412.7 297.6,411.7C297.6,410.7 297.6,409.7 297.6,408.7C297.7,407.7 297.7,406.6 297.7,405.6C297.8,404.6 297.8,403.6 297.8,402.6C297.8,401.5 297.9,400.5 297.9,399.5C297.9,398.5 297.9,397.5 298.0,396.4C298.0,395.4 298.0,394.4 298.0,393.4C298.1,392.3 298.1,391.3 298.1,390.3C298.1,389.3 298.1,388.3 298.1,387.2C298.1,386.2 298.1,385.2 298.1,384.2C298.1,383.1 298.1,382.1 298.0,381.1C298.0,380.1 298.0,379.0 298.0,378.0C297.9,377.0 297.9,376.0 297.9,374.9C297.8,373.9 297.8,372.9 297.8,371.9C297.9,370.8 297.9,369.8 298.0,368.8C298.1,367.8 298.2,366.8 298.4,365.8C298.6,364.8 298.8,363.8 299.1,362.9C299.4,361.9 300.0,360.0 300.3,360.0Z" fill="url(#gC)" stroke="none"/>
<path d="M299.2,395.0C299.3,397.0 299.4,402.9 299.5,406.9C299.6,410.9 299.7,414.9 299.9,418.8C300.0,422.8 300.2,426.8 300.5,430.8C300.7,434.7 301.1,438.7 301.5,442.7C301.9,446.7 302.3,450.6 302.9,454.6C303.4,458.6 304.0,462.6 304.8,466.5C305.5,470.5 306.3,474.5 307.2,478.5C308.1,482.4 309.1,486.4 310.2,490.4C311.3,494.4 312.6,498.3 313.9,502.3C315.2,506.3 316.6,510.3 318.0,514.2C319.4,518.2 320.8,522.2 322.1,526.2C323.4,530.1 324.7,534.1 325.9,538.1C327.1,542.1 328.8,548.0 329.4,550.0" fill="none" stroke="#F29A7E" stroke-width="1.1" stroke-linecap="round" opacity="0.9"/>
<path d="M302.0,395.0C302.3,397.0 303.2,402.9 303.7,406.9C304.3,410.9 304.9,414.9 305.4,418.8C306.0,422.8 306.5,426.8 307.1,430.8C307.7,434.7 308.3,438.7 308.9,442.7C309.5,446.7 310.2,450.6 310.8,454.6C311.5,458.6 312.2,462.6 312.9,466.5C313.6,470.5 314.3,474.5 315.1,478.5C315.9,482.4 316.7,486.4 317.6,490.4C318.5,494.4 319.4,498.3 320.4,502.3C321.4,506.3 322.5,510.3 323.5,514.2C324.5,518.2 325.6,522.2 326.6,526.2C327.6,530.1 328.6,534.1 329.5,538.1C330.4,542.1 331.8,548.0 332.2,550.0" fill="none" stroke="#EE9478" stroke-width="1.0" stroke-linecap="round" opacity="0.8"/>
<path d="M303.7,395.0C304.2,397.0 305.4,402.9 306.3,406.9C307.1,410.9 308.0,414.9 308.8,418.8C309.6,422.8 310.4,426.8 311.2,430.8C312.0,434.7 312.7,438.7 313.5,442.7C314.2,446.7 315.0,450.6 315.7,454.6C316.4,458.6 317.1,462.6 317.8,466.5C318.5,470.5 319.2,474.5 319.9,478.5C320.6,482.4 321.3,486.4 322.1,490.4C322.8,494.4 323.6,498.3 324.4,502.3C325.2,506.3 326.0,510.3 326.9,514.2C327.7,518.2 328.6,522.2 329.4,526.2C330.2,530.1 330.9,534.1 331.7,538.1C332.5,542.1 333.6,548.0 333.9,550.0" fill="none" stroke="#D06B54" stroke-width="0.9" stroke-linecap="round" opacity="0.45"/>
<path d="M305.6,395.0C306.2,397.0 307.9,402.9 309.0,406.9C310.2,410.9 311.3,414.9 312.4,418.8C313.5,422.8 314.5,426.8 315.5,430.8C316.5,434.7 317.5,438.7 318.4,442.7C319.2,446.7 320.1,450.6 320.9,454.6C321.7,458.6 322.4,462.6 323.1,466.5C323.8,470.5 324.5,474.5 325.1,478.5C325.7,482.4 326.3,486.4 326.9,490.4C327.4,494.4 328.0,498.3 328.6,502.3C329.2,506.3 329.8,510.3 330.4,514.2C331.1,518.2 331.7,522.2 332.3,526.2C332.9,530.1 333.5,534.1 334.1,538.1C334.6,542.1 335.5,548.0 335.8,550.0" fill="none" stroke="#EE9579" stroke-width="1.0" stroke-linecap="round" opacity="0.75"/>
<path d="M308.5,395.0C309.3,397.0 311.8,402.9 313.4,406.9C315.0,410.9 316.7,414.9 318.2,418.8C319.7,422.8 321.2,426.8 322.5,430.8C323.8,434.7 325.0,438.7 326.1,442.7C327.3,446.7 328.3,450.6 329.2,454.6C330.1,458.6 330.9,462.6 331.6,466.5C332.3,470.5 332.9,474.5 333.4,478.5C333.8,482.4 334.2,486.4 334.5,490.4C334.9,494.4 335.1,498.3 335.4,502.3C335.7,506.3 335.9,510.3 336.2,514.2C336.5,518.2 336.8,522.2 337.0,526.2C337.3,530.1 337.6,534.1 337.8,538.1C338.1,542.1 338.5,548.0 338.7,550.0" fill="none" stroke="#F29A7E" stroke-width="1.0" stroke-linecap="round" opacity="0.85"/>
<path d="M300.3,360.0C300.4,360.5 300.6,362.0 300.7,363.0C300.9,364.0 301.1,365.0 301.2,366.0C301.4,367.0 301.6,368.0 301.8,369.0C302.0,370.0 302.2,371.0 302.4,372.0C302.6,373.0 302.9,374.0 303.1,375.0C303.3,376.0 303.6,376.9 303.9,377.9C304.1,378.9 304.4,379.9 304.7,380.8C305.0,381.8 305.3,382.7 305.6,383.7C306.0,384.6 306.3,385.6 306.7,386.5C307.0,387.5 307.4,388.4 307.8,389.3C308.2,390.3 308.5,391.2 308.9,392.1C309.3,393.1 309.8,394.0 310.2,394.9C310.6,395.8 311.0,396.7 311.5,397.7C311.9,398.6 312.3,399.5 312.8,400.4C313.2,401.3 313.7,402.2 314.1,403.1C314.6,404.0 315.0,404.9 315.5,405.8C315.9,406.8 316.4,407.7 316.8,408.6C317.2,409.5 317.7,410.4 318.1,411.3C318.6,412.2 319.0,413.2 319.4,414.1C319.9,415.0 320.3,415.9 320.7,416.8C321.1,417.8 321.5,418.7 322.0,419.6C322.4,420.6 322.8,421.5 323.2,422.4C323.6,423.4 324.0,424.3 324.3,425.2C324.7,426.2 325.1,427.1 325.5,428.1C325.9,429.0 326.2,430.0 326.6,430.9C326.9,431.8 327.3,432.8 327.7,433.8C328.0,434.7 328.3,435.7 328.7,436.6C329.0,437.6 329.3,438.5 329.7,439.5C330.0,440.5 330.3,441.4 330.6,442.4C330.9,443.3 331.2,444.3 331.5,445.3C331.8,446.3 332.1,447.2 332.4,448.2C332.6,449.2 332.9,450.1 333.2,451.1C333.4,452.1 333.7,453.1 333.9,454.1C334.2,455.0 334.4,456.0 334.6,457.0C334.9,458.0 335.1,459.0 335.3,460.0C335.5,461.0 335.7,461.9 335.9,462.9C336.1,463.9 336.3,464.9 336.5,465.9C336.6,466.9 336.8,467.9 337.0,468.9C337.1,469.9 337.3,470.9 337.4,471.9C337.5,472.9 337.7,473.9 337.8,474.9C337.9,475.9 338.0,476.9 338.1,477.9C338.2,478.9 338.3,479.9 338.4,480.9C338.5,482.0 338.6,483.0 338.7,484.0C338.7,485.0 338.8,486.0 338.9,487.0C338.9,488.0 339.0,489.0 339.0,490.1C339.1,491.1 339.1,492.1 339.1,493.1C339.2,494.1 339.2,495.1 339.2,496.2C339.3,497.2 339.3,498.2 339.3,499.2C339.3,500.2 339.4,501.2 339.4,502.3C339.4,503.3 339.4,504.3 339.4,505.3C339.4,506.3 339.5,507.3 339.5,508.4C339.5,509.4 339.5,510.4 339.5,511.4C339.5,512.4 339.5,513.4 339.6,514.5C339.6,515.5 339.6,516.5 339.6,517.5C339.6,518.5 339.6,519.5 339.7,520.5C339.7,521.6 339.7,522.6 339.7,523.6C339.7,524.6 339.8,525.6 339.8,526.6C339.8,527.6 339.8,528.6 339.9,529.6C339.9,530.7 339.9,531.7 339.9,532.7C339.9,533.7 340.0,534.7 340.0,535.7C340.0,536.7 340.0,537.7 340.0,538.8C340.1,539.8 340.1,540.8 340.1,541.8C340.1,542.8 340.2,543.8 340.2,544.8C340.2,545.9 340.3,546.9 340.3,547.9C340.3,548.9 340.4,549.9 340.4,550.9C340.5,551.9 340.5,552.9 340.6,553.9C340.7,555.0 340.8,556.0 340.8,557.0C340.9,558.0 341.0,559.0 341.1,560.0C341.2,561.0 341.3,562.0 341.5,563.0C341.6,564.0 341.7,565.0 341.9,566.0C342.1,567.0 342.2,568.0 342.4,569.0C342.6,570.0 342.7,571.0 342.9,572.0C343.1,573.0 343.3,573.9 343.5,574.9C343.7,575.9 343.9,576.9 344.2,577.9C344.4,578.9 344.6,579.9 344.8,580.9C345.0,581.9 345.3,582.8 345.5,583.8C345.7,584.8 345.9,585.8 346.2,586.8C346.4,587.8 346.6,588.8 346.9,589.8C347.1,590.8 347.3,591.7 347.6,592.7C347.8,593.7 348.0,594.7 348.2,595.7C348.4,596.7 348.6,597.7 348.9,598.7C349.1,599.7 349.3,600.7 349.5,601.7C349.7,602.6 349.9,603.6 350.1,604.6C350.2,605.6 350.4,606.6 350.6,607.6C350.8,608.6 351.0,609.6 351.2,610.6C351.4,611.6 351.6,612.6 351.7,613.6C351.9,614.6 352.1,615.6 352.3,616.6C352.5,617.6 352.7,618.6 352.9,619.6C353.1,620.6 353.3,621.6 353.4,622.5C353.6,623.5 353.9,624.5 354.1,625.5C354.3,626.5 354.6,628.0 354.7,628.5" fill="none" stroke="#111" stroke-width="2.1" stroke-linecap="round" stroke-linejoin="round" />
<path d="M346.8,628.5C346.7,628.0 346.5,626.5 346.4,625.5C346.3,624.4 346.1,623.4 346.0,622.4C345.8,621.4 345.7,620.4 345.5,619.4C345.4,618.4 345.2,617.4 345.0,616.4C344.9,615.3 344.7,614.3 344.5,613.3C344.3,612.3 344.1,611.3 343.9,610.3C343.8,609.3 343.6,608.3 343.4,607.3C343.2,606.3 343.0,605.3 342.8,604.3C342.6,603.3 342.3,602.3 342.1,601.3C341.9,600.3 341.7,599.3 341.5,598.3C341.2,597.3 341.0,596.3 340.8,595.3C340.6,594.3 340.3,593.4 340.1,592.4C339.8,591.4 339.6,590.4 339.4,589.4C339.1,588.4 338.9,587.4 338.6,586.4C338.4,585.4 338.1,584.4 337.9,583.4C337.6,582.5 337.3,581.5 337.1,580.5C336.8,579.5 336.5,578.5 336.3,577.5C336.0,576.5 335.7,575.6 335.5,574.6C335.2,573.6 334.9,572.6 334.6,571.6C334.4,570.6 334.1,569.7 333.8,568.7C333.5,567.7 333.2,566.7 332.9,565.7C332.7,564.8 332.4,563.8 332.1,562.8C331.8,561.8 331.5,560.8 331.2,559.9C330.9,558.9 330.6,557.9 330.3,556.9C330.0,556.0 329.7,555.0 329.4,554.0C329.1,553.0 328.8,552.0 328.5,551.1C328.2,550.1 327.9,549.1 327.6,548.2C327.3,547.2 327.0,546.2 326.7,545.2C326.4,544.3 326.1,543.3 325.7,542.3C325.4,541.4 325.1,540.4 324.8,539.4C324.4,538.4 324.1,537.5 323.8,536.5C323.5,535.5 323.1,534.6 322.8,533.6C322.5,532.6 322.1,531.7 321.8,530.7C321.4,529.8 321.1,528.8 320.7,527.8C320.4,526.9 320.0,525.9 319.7,525.0C319.3,524.0 319.0,523.0 318.6,522.1C318.2,521.1 317.9,520.2 317.5,519.2C317.1,518.3 316.8,517.3 316.4,516.3C316.0,515.4 315.7,514.4 315.3,513.5C314.9,512.5 314.6,511.6 314.2,510.6C313.8,509.7 313.5,508.7 313.1,507.8C312.7,506.8 312.4,505.8 312.0,504.9C311.7,503.9 311.3,503.0 311.0,502.0C310.6,501.0 310.3,500.1 309.9,499.1C309.6,498.2 309.2,497.2 308.9,496.2C308.6,495.3 308.3,494.3 307.9,493.3C307.6,492.4 307.3,491.4 307.0,490.4C306.7,489.4 306.4,488.5 306.1,487.5C305.8,486.5 305.6,485.5 305.3,484.5C305.0,483.6 304.8,482.6 304.5,481.6C304.2,480.6 304.0,479.6 303.8,478.6C303.5,477.6 303.3,476.6 303.1,475.6C302.8,474.6 302.6,473.6 302.4,472.7C302.2,471.7 302.0,470.7 301.8,469.7C301.6,468.7 301.4,467.6 301.2,466.6C301.1,465.6 300.9,464.6 300.7,463.6C300.5,462.6 300.4,461.6 300.2,460.6C300.1,459.6 299.9,458.6 299.8,457.6C299.6,456.6 299.5,455.5 299.4,454.5C299.3,453.5 299.1,452.5 299.0,451.5C298.9,450.5 298.8,449.5 298.7,448.4C298.6,447.4 298.5,446.4 298.4,445.4C298.3,444.4 298.3,443.4 298.2,442.3C298.1,441.3 298.0,440.3 298.0,439.3C297.9,438.3 297.8,437.2 297.8,436.2C297.7,435.2 297.7,434.2 297.7,433.2C297.6,432.1 297.6,431.1 297.6,430.1C297.5,429.1 297.5,428.0 297.5,427.0C297.5,426.0 297.4,425.0 297.4,424.0C297.4,422.9 297.4,421.9 297.4,420.9C297.4,419.9 297.4,418.9 297.5,417.8C297.5,416.8 297.5,415.8 297.5,414.8C297.5,413.8 297.5,412.7 297.6,411.7C297.6,410.7 297.6,409.7 297.6,408.7C297.7,407.7 297.7,406.6 297.7,405.6C297.8,404.6 297.8,403.6 297.8,402.6C297.8,401.5 297.9,400.5 297.9,399.5C297.9,398.5 297.9,397.5 298.0,396.4C298.0,395.4 298.0,394.4 298.0,393.4C298.1,392.3 298.1,391.3 298.1,390.3C298.1,389.3 298.1,388.3 298.1,387.2C298.1,386.2 298.1,385.2 298.1,384.2C298.1,383.1 298.1,382.1 298.0,381.1C298.0,380.1 298.0,379.0 298.0,378.0C297.9,377.0 297.9,376.0 297.9,374.9C297.8,373.9 297.8,372.9 297.8,371.9C297.9,370.8 297.9,369.8 298.0,368.8C298.1,367.8 298.2,366.8 298.4,365.8C298.6,364.8 298.8,363.8 299.1,362.9C299.4,361.9 300.1,360.5 300.3,360.0" fill="none" stroke="#111" stroke-width="2.0" stroke-linecap="round" stroke-linejoin="round" />
<path d="M253.9,357.5C254.5,358.9 257.5,366.2 258.3,367.4C259.1,368.6 260.5,367.9 259.9,366.6C259.4,365.2 254.9,358.7 254.1,357.5C253.3,356.3 253.4,356.2 253.9,357.5Z" fill="#222" stroke="none"/>
<path d="M259.1,367.0C260.2,368.5 264.0,372.2 265.7,375.9C267.4,379.6 268.5,383.1 269.4,389.0C270.3,394.9 270.5,401.7 270.9,411.0C271.3,420.3 271.4,432.8 271.6,445.0C271.8,457.2 271.7,469.8 272.0,484.0C272.3,498.2 272.9,519.4 273.5,530.0C274.1,540.6 274.9,541.1 275.9,547.6C276.9,554.1 278.3,561.7 279.4,568.8C280.5,575.9 281.9,585.3 282.6,590.0C283.3,594.7 283.5,594.5 283.8,597.0C284.1,599.5 284.1,602.9 284.4,605.3C284.7,607.7 285.0,609.2 285.6,611.2C286.2,613.2 286.8,615.3 287.9,617.1C289.0,618.9 290.4,620.6 292.1,621.8C293.8,623.0 295.9,623.6 297.9,624.1C299.8,624.6 302.8,624.6 303.8,624.7" fill="none" stroke="#111" stroke-width="1.9" stroke-linecap="round" stroke-linejoin="round" />
<path d="M298.1,370.0C297.1,370.7 293.6,372.2 292.2,374.4C290.8,376.6 290.5,378.3 290.0,383.2C289.5,388.1 289.4,393.5 289.3,403.8C289.2,414.1 289.1,431.6 289.5,445.0C289.9,458.4 291.1,471.5 291.9,484.0C292.7,496.5 293.8,511.5 294.5,520.0C295.2,528.5 295.8,528.9 296.2,535.0C296.6,541.1 296.6,549.8 297.0,556.5C297.4,563.2 298.1,569.8 298.5,575.0C298.9,580.2 298.7,584.8 299.1,588.0C299.6,591.2 300.5,592.4 301.2,594.0C301.9,595.6 302.5,596.8 303.3,597.7C304.1,598.6 305.5,599.0 305.9,599.3" fill="none" stroke="#111" stroke-width="1.9" stroke-linecap="round" stroke-linejoin="round" />
<path d="M305.9,599.3C306.3,599.2 307.5,599.0 308.6,598.8C309.7,598.6 311.1,598.0 312.3,598.2C313.5,598.4 314.9,598.9 316.0,599.8C317.1,600.7 318.0,602.1 318.6,603.5C319.2,604.9 319.5,606.6 319.7,608.3C319.9,610.0 319.9,612.0 319.7,613.6C319.5,615.2 319.2,616.5 318.6,617.8C318.0,619.1 317.0,620.6 316.0,621.5C315.0,622.4 314.0,622.9 312.8,623.4C311.6,623.9 310.2,624.2 308.6,624.4C307.0,624.6 305.1,624.7 303.3,624.7C301.5,624.7 298.9,624.5 298.0,624.4" fill="none" stroke="#111" stroke-width="1.8" stroke-linecap="round" stroke-linejoin="round" />
<path d="M320.2,606.7C320.6,606.6 321.9,606.0 322.9,605.9C323.9,605.8 324.9,605.9 326.0,606.2C327.1,606.5 328.2,607.1 329.2,607.8C330.2,608.5 331.1,609.5 331.9,610.4C332.7,611.3 333.1,612.0 334.0,613.0C334.9,614.0 335.9,615.4 337.1,616.2C338.4,617.0 340.1,617.2 341.5,617.9C342.9,618.6 344.8,620.1 345.5,620.5" fill="none" stroke="#111" stroke-width="1.8" stroke-linecap="round" stroke-linejoin="round" />
<path d="M309.1,599.8C309.6,600.3 311.0,601.9 311.8,603.0C312.6,604.1 313.4,605.3 313.9,606.7C314.4,608.1 314.8,609.9 314.9,611.5C315.0,613.1 314.7,615.0 314.4,616.2C314.1,617.4 313.5,618.5 313.3,618.9" fill="none" stroke="#111" stroke-width="1.5" stroke-linecap="round" stroke-linejoin="round" />
<path d="M325.0,606.7C325.2,607.5 326.0,610.0 326.0,611.5C326.0,613.0 325.9,614.2 325.0,615.7C324.1,617.2 321.5,619.7 320.8,620.5" fill="none" stroke="#111" stroke-width="1.3" stroke-linecap="round" stroke-linejoin="round" />
<path d="M314.4,633.5C315.4,633.7 318.3,634.7 320.3,634.7C322.3,634.7 324.1,633.6 326.2,633.5C328.3,633.4 330.6,633.5 333.2,634.1C335.8,634.7 340.1,636.6 341.5,637.1" fill="none" stroke="#111" stroke-width="1.5" stroke-linecap="round" stroke-linejoin="round" />
<path d="M315.0,632.1C315.9,632.0 318.4,631.2 320.3,631.2C322.2,631.2 324.4,631.5 326.5,632.1C328.6,632.7 330.5,633.5 332.7,634.7C334.9,635.9 337.1,637.5 339.7,639.1C342.3,640.7 346.0,642.8 348.5,644.4C351.0,646.0 352.5,647.2 354.7,648.8C356.9,650.4 359.3,652.4 361.8,654.0C364.3,655.6 366.8,656.6 369.8,658.4C372.8,660.2 376.7,662.8 380.0,665.0C383.3,667.2 386.7,669.5 389.7,671.6C392.7,673.7 395.4,675.6 398.0,677.5C400.6,679.4 404.3,681.9 405.6,682.8" fill="none" stroke="#111" stroke-width="1.8" stroke-linecap="round" stroke-linejoin="round" />
<path d="M325.6,633.8C326.5,634.4 329.0,635.9 330.9,637.4C332.8,638.9 335.3,640.9 337.1,642.7C338.9,644.5 340.0,646.4 341.5,648.0C343.0,649.6 344.5,651.2 345.9,652.4C347.3,653.6 347.6,653.8 350.0,655.0C352.4,656.2 356.7,658.0 360.0,659.5C363.3,661.0 366.5,662.0 369.8,663.7C373.1,665.4 376.9,667.8 380.0,669.5C383.1,671.2 386.1,673.2 388.4,674.2C390.7,675.2 392.8,675.4 393.7,675.6" fill="none" stroke="#111" stroke-width="1.3" stroke-linecap="round" stroke-linejoin="round" />
<path d="M350.0,663.7C351.8,664.5 357.2,667.0 361.0,668.5C364.8,670.0 370.6,672.2 372.5,672.9" fill="none" stroke="#333" stroke-width="1.0" stroke-linecap="round" stroke-linejoin="round" />
<path d="M284.0,604.2C283.2,604.5 280.7,605.2 279.2,605.8C277.7,606.4 276.1,607.1 275.0,607.9C273.9,608.7 273.4,609.5 272.9,610.6C272.4,611.7 272.3,613.0 272.1,614.3C271.9,615.6 271.9,617.2 271.8,618.5C271.7,619.8 271.7,620.9 271.3,622.2C270.9,623.5 270.1,625.1 269.7,626.5C269.3,627.9 269.2,629.3 269.2,630.7C269.2,632.1 269.3,633.7 269.7,634.9C270.1,636.1 270.8,637.2 271.8,638.1C272.8,639.0 274.2,639.9 275.5,640.2C276.8,640.6 278.5,640.0 279.8,640.2C281.1,640.4 282.3,640.8 283.5,641.3C284.7,641.8 285.9,642.7 287.2,643.4C288.5,644.1 290.0,644.8 291.4,645.5C292.8,646.2 293.1,646.3 295.6,647.6C298.1,648.9 303.1,651.9 306.2,653.5C309.3,655.1 311.8,656.0 314.4,657.1C316.9,658.2 317.3,658.2 321.5,660.0C325.7,661.8 334.6,665.9 339.4,668.0C344.1,670.1 343.8,670.1 350.0,672.9C356.2,675.7 367.7,680.6 376.5,684.8C385.3,689.0 398.5,695.8 402.9,698.0" fill="none" stroke="#111" stroke-width="1.9" stroke-linecap="round" stroke-linejoin="round" />
<path d="M315.0,634.7C315.9,635.2 318.4,636.4 320.3,637.4C322.2,638.4 324.4,639.4 326.5,640.9C328.6,642.4 331.2,644.7 332.7,646.2C334.2,647.7 334.9,649.1 335.3,649.7" fill="none" stroke="#555" stroke-width="0.9" stroke-linecap="round" stroke-linejoin="round" />
<path d="M287.0,575.0C287.5,576.7 289.0,582.0 290.0,585.0C291.0,588.0 292.5,591.7 293.0,593.0" fill="none" stroke="#555" stroke-width="0.9" stroke-linecap="round" stroke-linejoin="round" />
<path d="M283.0,580.0C283.5,581.7 284.7,587.0 286.0,590.0C287.3,593.0 290.2,596.7 291.0,598.0" fill="none" stroke="#555" stroke-width="0.9" stroke-linecap="round" stroke-linejoin="round" />
<path d="M294.6,603.2C294.2,604.1 292.0,606.5 291.9,608.5C291.8,610.5 293.6,614.2 294.0,615.3" fill="none" stroke="#555" stroke-width="0.9" stroke-linecap="round" stroke-linejoin="round" />
<path d="M283.5,613.8C283.7,614.8 283.6,618.4 284.5,620.1C285.4,621.9 288.1,623.6 288.8,624.3" fill="none" stroke="#555" stroke-width="0.9" stroke-linecap="round" stroke-linejoin="round" />
<path d="M280.3,622.8C280.8,623.4 282.4,625.5 283.5,626.5C284.6,627.5 286.6,628.7 287.2,629.1" fill="none" stroke="#555" stroke-width="0.9" stroke-linecap="round" stroke-linejoin="round" />
<path d="M284.5,634.4C285.4,634.8 288.0,636.0 289.8,637.0C291.6,638.0 294.2,640.1 295.1,640.7" fill="none" stroke="#555" stroke-width="0.9" stroke-linecap="round" stroke-linejoin="round" />
<path d="M292.5,626.5L302.0,628.0" fill="none" stroke="#555" stroke-width="0.9" stroke-linecap="round" stroke-linejoin="round" />
<path d="M273.9,623.8L274.5,627.5" fill="none" stroke="#555" stroke-width="0.9" stroke-linecap="round" stroke-linejoin="round" />
<path d="M365.9,640.3C367.8,641.8 373.0,646.4 377.0,649.5C381.0,652.6 387.6,657.2 389.7,658.8" fill="none" stroke="#555" stroke-width="0.9" stroke-linecap="round" stroke-linejoin="round" />
<path d="M330.8,616.2L332.9,618.3" fill="none" stroke="#555" stroke-width="0.9" stroke-linecap="round" stroke-linejoin="round" />
<path d="M328.5,620.5L331.0,622.5" fill="none" stroke="#555" stroke-width="0.9" stroke-linecap="round" stroke-linejoin="round" />
<path d="M325.5,624.0L330.0,627.0" fill="none" stroke="#555" stroke-width="0.9" stroke-linecap="round" stroke-linejoin="round" />
<path d="M308.6,624.7C308.8,625.2 309.1,626.9 309.6,627.9C310.1,628.9 311.4,630.5 311.8,631.0" fill="none" stroke="#555" stroke-width="0.9" stroke-linecap="round" stroke-linejoin="round" />
<path d="M354.0,629.3C354.7,630.2 358.4,633.1 360.2,634.6C362.0,636.1 365.4,639.3 367.3,640.8C369.2,642.4 372.8,645.0 374.4,646.2C376.0,647.3 377.2,647.9 379.4,649.4C381.7,650.9 388.3,655.3 391.4,657.4C394.5,659.4 398.5,662.6 402.4,664.9C406.4,667.2 418.8,673.6 421.4,674.9C424.0,676.2 424.0,676.1 421.6,674.5C419.2,673.0 407.4,665.6 403.6,663.1C399.7,660.6 395.6,657.7 392.6,655.6C389.5,653.6 382.8,649.1 380.6,647.6C378.3,646.1 377.2,645.6 375.6,644.4C374.0,643.3 370.5,640.7 368.7,639.2C366.8,637.7 363.4,634.5 361.6,633.0C359.8,631.5 356.4,628.2 355.4,627.7C354.4,627.2 353.4,628.4 354.0,629.3Z" fill="#111" stroke="none"/>
<use href="#armAb" transform="translate(246.5,672.5)"/>
<path d="M305.0,688.8C304.9,689.1 304.8,690.6 304.7,691.3C304.6,692.0 304.2,693.9 304.4,694.3C304.5,694.7 305.7,694.7 305.9,694.3C306.0,693.9 305.6,692.0 305.5,691.3C305.4,690.6 305.3,689.1 305.2,688.8C305.1,688.5 305.1,688.5 305.0,688.8Z" fill="#666" stroke="none"/>
<linearGradient id="gD" gradientUnits="userSpaceOnUse" x1="0" y1="693" x2="0" y2="938"><stop offset="0" stop-color="#FDF6F0"/><stop offset="0.082" stop-color="#FAE8DD"/><stop offset="0.1" stop-color="#F3C4AE"/><stop offset="0.114" stop-color="#E3826A"/><stop offset="0.665" stop-color="#E3826A"/><stop offset="0.714" stop-color="#EEB299"/><stop offset="0.78" stop-color="#F6DCC8"/><stop offset="0.845" stop-color="#F8E8DA"/><stop offset="1" stop-color="#FAF2E8"/></linearGradient>
<path d="M305.1,693.8C305.4,693.8 305.6,695.8 305.8,696.7C306.0,697.7 306.2,698.7 306.4,699.8C306.6,700.8 306.8,701.8 307.0,702.8C307.2,703.8 307.3,704.8 307.6,705.8C307.8,706.8 308.0,707.8 308.3,708.7C308.6,709.7 308.9,710.7 309.2,711.6C309.6,712.5 309.9,713.5 310.3,714.4C310.7,715.3 311.1,716.2 311.6,717.1C312.0,718.0 312.5,718.9 313.0,719.8C313.5,720.7 314.0,721.5 314.5,722.4C315.0,723.3 315.5,724.1 316.1,725.0C316.6,725.8 317.1,726.7 317.7,727.5C318.3,728.4 318.8,729.2 319.4,730.1C320.0,730.9 320.5,731.8 321.1,732.6C321.7,733.5 322.3,734.3 322.8,735.2C323.4,736.0 323.9,736.9 324.5,737.7C325.1,738.6 325.6,739.5 326.1,740.3C326.7,741.2 327.2,742.1 327.7,742.9C328.2,743.8 328.7,744.7 329.2,745.6C329.7,746.5 330.1,747.4 330.6,748.3C331.0,749.2 331.4,750.1 331.8,751.0C332.2,752.0 332.6,752.9 333.0,753.8C333.4,754.8 333.7,755.7 334.0,756.7C334.4,757.6 334.7,758.6 335.0,759.5C335.3,760.5 335.6,761.5 335.9,762.4C336.1,763.4 336.4,764.4 336.6,765.4C336.9,766.4 337.1,767.3 337.3,768.3C337.5,769.3 337.7,770.3 337.9,771.3C338.0,772.3 338.2,773.3 338.4,774.3C338.5,775.3 338.6,776.3 338.8,777.3C338.9,778.4 339.0,779.4 339.1,780.4C339.2,781.4 339.3,782.4 339.4,783.4C339.4,784.4 339.5,785.4 339.6,786.5C339.6,787.5 339.6,788.5 339.7,789.5C339.7,790.5 339.7,791.5 339.7,792.6C339.7,793.6 339.7,794.6 339.7,795.6C339.7,796.6 339.7,797.6 339.7,798.6C339.6,799.6 339.6,800.7 339.5,801.7C339.5,802.7 339.4,803.7 339.4,804.7C339.3,805.7 339.2,806.7 339.2,807.7C339.1,808.7 339.0,809.7 338.9,810.7C338.8,811.7 338.7,812.7 338.6,813.8C338.5,814.8 338.4,815.8 338.3,816.8C338.2,817.8 338.1,818.8 337.9,819.8C337.8,820.8 337.7,821.8 337.6,822.8C337.4,823.8 337.3,824.8 337.2,825.9C337.0,826.9 336.9,827.9 336.8,828.9C336.7,829.9 336.6,830.9 336.4,831.9C336.3,832.9 336.2,833.9 336.1,835.0C336.0,836.0 335.9,837.0 335.8,838.0C335.8,839.0 335.7,840.0 335.6,841.0C335.6,842.0 335.5,843.0 335.5,844.0C335.5,845.0 335.5,846.0 335.5,847.1C335.5,848.1 335.5,849.1 335.6,850.1C335.6,851.1 335.7,852.1 335.7,853.1C335.8,854.1 335.9,855.1 336.0,856.1C336.1,857.1 336.2,858.1 336.4,859.1C336.5,860.1 336.6,861.1 336.8,862.1C336.9,863.1 337.1,864.1 337.3,865.1C337.4,866.0 337.6,867.0 337.8,868.0C338.0,869.0 338.2,870.0 338.4,871.0C338.6,872.0 338.8,873.0 339.0,874.0C339.2,875.0 339.4,876.0 339.6,877.0C339.9,878.0 340.1,879.0 340.3,880.0C340.5,880.9 340.8,881.9 341.0,882.9C341.2,883.9 341.5,884.9 341.7,885.9C341.9,886.9 342.2,887.9 342.4,888.9C342.6,889.9 342.8,890.9 343.1,891.9C343.3,892.9 343.5,893.8 343.7,894.8C343.9,895.8 344.2,896.8 344.4,897.8C344.6,898.8 344.8,899.8 345.0,900.8C345.2,901.8 345.4,902.8 345.6,903.8C345.7,904.8 345.9,905.8 346.1,906.8C346.3,907.8 346.5,908.8 346.6,909.8C346.8,910.7 347.0,911.7 347.1,912.7C347.3,913.7 347.5,914.7 347.7,915.7C347.8,916.7 348.0,917.7 348.2,918.7C348.4,919.7 348.5,920.7 348.7,921.7C348.9,922.7 349.1,923.7 349.3,924.7C349.4,925.7 349.6,926.7 349.8,927.7C350.0,928.7 350.2,929.7 350.4,930.6C350.7,931.6 350.9,932.6 351.1,933.6C351.3,934.6 353.2,936.5 351.8,936.6C350.4,936.7 344.4,935.3 342.9,934.4C341.4,933.5 342.8,932.3 342.7,931.3C342.6,930.3 342.4,929.3 342.3,928.3C342.1,927.3 341.9,926.3 341.7,925.3C341.5,924.3 341.3,923.3 341.1,922.3C340.8,921.3 340.6,920.4 340.3,919.4C340.1,918.4 339.8,917.4 339.5,916.4C339.3,915.5 339.0,914.5 338.7,913.5C338.4,912.5 338.1,911.6 337.8,910.6C337.5,909.6 337.2,908.7 336.9,907.7C336.6,906.7 336.3,905.7 336.1,904.8C335.8,903.8 335.5,902.8 335.2,901.8C335.0,900.8 334.7,899.9 334.5,898.9C334.2,897.9 334.0,896.9 333.8,895.9C333.6,894.9 333.4,893.9 333.2,892.9C333.0,891.9 332.8,890.9 332.6,889.9C332.4,888.9 332.2,887.9 332.0,886.9C331.9,886.0 331.7,884.9 331.5,883.9C331.3,883.0 331.2,881.9 331.0,880.9C330.8,880.0 330.6,879.0 330.4,878.0C330.2,877.0 330.0,876.0 329.8,875.0C329.6,874.0 329.4,873.0 329.2,872.0C329.0,871.0 328.7,870.0 328.5,869.0C328.3,868.0 328.0,867.0 327.7,866.0C327.5,865.1 327.2,864.1 326.9,863.1C326.6,862.1 326.3,861.2 326.0,860.2C325.7,859.2 325.3,858.2 325.0,857.3C324.7,856.3 324.3,855.3 324.0,854.4C323.7,853.4 323.3,852.4 323.0,851.5C322.6,850.5 322.3,849.6 321.9,848.6C321.6,847.7 321.2,846.7 320.8,845.8C320.5,844.8 320.1,843.9 319.7,842.9C319.3,842.0 318.9,841.1 318.5,840.1C318.1,839.2 317.7,838.3 317.3,837.4C316.8,836.4 316.4,835.5 315.9,834.6C315.5,833.7 315.0,832.8 314.5,831.9C314.0,831.1 313.5,830.2 313.0,829.3C312.5,828.4 312.0,827.5 311.5,826.7C311.0,825.8 310.5,824.9 310.1,823.9C309.7,823.0 309.3,822.1 308.9,821.2C308.5,820.2 308.2,819.3 307.8,818.3C307.4,817.4 307.1,816.4 306.8,815.5C306.4,814.6 306.0,813.6 305.7,812.7C305.3,811.7 304.9,810.8 304.5,809.9C304.1,808.9 303.7,808.0 303.3,807.1C302.8,806.1 302.4,805.2 302.0,804.3C301.6,803.3 301.2,802.4 300.8,801.5C300.4,800.5 300.0,799.6 299.6,798.6C299.2,797.7 298.8,796.7 298.5,795.8C298.1,794.8 297.8,793.9 297.4,792.9C297.1,791.9 296.8,791.0 296.6,790.0C296.3,789.0 296.0,788.0 295.8,787.0C295.6,786.0 295.3,785.1 295.1,784.1C294.9,783.1 294.8,782.1 294.6,781.1C294.4,780.1 294.3,779.1 294.2,778.1C294.0,777.1 293.9,776.0 293.8,775.0C293.7,774.0 293.6,773.0 293.6,772.0C293.5,771.0 293.5,770.0 293.4,768.9C293.4,767.9 293.4,766.9 293.4,765.9C293.4,764.9 293.4,763.8 293.4,762.8C293.5,761.8 293.5,760.8 293.6,759.8C293.6,758.8 293.7,757.7 293.8,756.7C293.8,755.7 293.9,754.7 294.0,753.7C294.2,752.6 294.3,751.6 294.4,750.6C294.5,749.6 294.7,748.6 294.8,747.6C295.0,746.6 295.2,745.6 295.3,744.6C295.5,743.6 295.7,742.6 295.9,741.6C296.1,740.6 296.3,739.6 296.5,738.6C296.7,737.6 296.9,736.6 297.2,735.6C297.4,734.6 297.6,733.6 297.8,732.7C298.0,731.7 298.2,730.7 298.4,729.7C298.6,728.7 298.9,727.7 299.0,726.7C299.2,725.7 299.4,724.7 299.6,723.7C299.8,722.7 299.9,721.7 300.1,720.7C300.2,719.7 300.4,718.7 300.5,717.7C300.6,716.7 300.7,715.6 300.8,714.6C300.9,713.6 300.9,712.6 301.0,711.5C301.1,710.5 301.2,709.5 301.3,708.5C301.4,707.5 301.5,706.5 301.7,705.4C301.8,704.4 302.0,703.4 302.2,702.4C302.4,701.4 302.6,700.5 302.8,699.5C303.1,698.5 303.4,697.5 303.8,696.6C304.2,695.7 304.8,693.8 305.1,693.8Z" fill="url(#gD)" stroke="none"/>
<path d="M301.1,724.0C300.9,725.6 300.4,730.5 300.0,733.7C299.6,736.9 299.1,740.2 298.8,743.4C298.5,746.6 298.2,749.8 298.0,753.1C297.8,756.3 297.7,759.5 297.7,762.8C297.7,766.0 297.8,769.2 298.1,772.5C298.3,775.7 298.7,778.9 299.2,782.2C299.8,785.4 300.5,788.6 301.4,791.8C302.3,795.1 303.5,798.3 304.7,801.5C305.9,804.8 307.3,808.0 308.4,811.2C309.6,814.5 310.4,817.7 311.7,820.9C313.0,824.2 314.6,827.4 316.0,830.6C317.4,833.8 319.0,837.1 320.3,840.3C321.6,843.5 323.2,848.4 323.7,850.0" fill="none" stroke="#F29A7E" stroke-width="1.1" stroke-linecap="round" opacity="0.9"/>
<path d="M304.8,724.0C304.9,725.6 305.3,730.5 305.6,733.7C305.8,736.9 306.0,740.2 306.3,743.4C306.5,746.6 306.6,749.8 306.8,753.1C307.0,756.3 307.2,759.5 307.5,762.8C307.7,766.0 307.9,769.2 308.3,772.5C308.6,775.7 309.0,778.9 309.5,782.2C309.9,785.4 310.5,788.6 311.2,791.8C311.9,795.1 312.7,798.3 313.6,801.5C314.4,804.8 315.4,808.0 316.2,811.2C317.0,814.5 317.5,817.7 318.4,820.9C319.2,824.2 320.3,827.4 321.3,830.6C322.2,833.8 323.3,837.1 324.2,840.3C325.1,843.5 326.3,848.4 326.8,850.0" fill="none" stroke="#EE9478" stroke-width="1.0" stroke-linecap="round" opacity="0.8"/>
<path d="M307.0,724.0C307.3,725.6 308.3,730.5 309.0,733.7C309.6,736.9 310.2,740.2 310.8,743.4C311.3,746.6 311.8,749.8 312.2,753.1C312.7,756.3 313.0,759.5 313.4,762.8C313.8,766.0 314.1,769.2 314.5,772.5C314.9,775.7 315.2,778.9 315.7,782.2C316.1,785.4 316.6,788.6 317.1,791.8C317.7,795.1 318.4,798.3 319.0,801.5C319.6,804.8 320.4,808.0 320.9,811.2C321.5,814.5 321.8,817.7 322.4,820.9C323.0,824.2 323.8,827.4 324.5,830.6C325.2,833.8 325.9,837.1 326.6,840.3C327.3,843.5 328.3,848.4 328.6,850.0" fill="none" stroke="#D06B54" stroke-width="0.9" stroke-linecap="round" opacity="0.45"/>
<path d="M309.4,724.0C309.9,725.6 311.6,730.5 312.6,733.7C313.6,736.9 314.8,740.2 315.7,743.4C316.6,746.6 317.3,749.8 318.0,753.1C318.7,756.3 319.3,759.5 319.8,762.8C320.3,766.0 320.7,769.2 321.2,772.5C321.6,775.7 322.0,778.9 322.4,782.2C322.8,785.4 323.1,788.6 323.5,791.8C323.9,795.1 324.4,798.3 324.8,801.5C325.2,804.8 325.7,808.0 326.0,811.2C326.3,814.5 326.5,817.7 326.8,820.9C327.1,824.2 327.5,827.4 327.9,830.6C328.3,833.8 328.7,837.1 329.2,840.3C329.6,843.5 330.3,848.4 330.6,850.0" fill="none" stroke="#EE9579" stroke-width="1.0" stroke-linecap="round" opacity="0.75"/>
<path d="M313.2,724.0C314.1,725.6 316.7,730.5 318.4,733.7C320.1,736.9 322.0,740.2 323.4,743.4C324.9,746.6 326.2,749.8 327.3,753.1C328.4,756.3 329.2,759.5 330.0,762.8C330.7,766.0 331.3,769.2 331.8,772.5C332.3,775.7 332.7,778.9 333.0,782.2C333.4,785.4 333.6,788.6 333.8,791.8C333.9,795.1 334.1,798.3 334.1,801.5C334.2,804.8 334.2,808.0 334.1,811.2C334.1,814.5 333.9,817.7 333.7,820.9C333.6,824.2 333.5,827.4 333.4,830.6C333.3,833.8 333.2,837.1 333.3,840.3C333.3,843.5 333.6,848.4 333.7,850.0" fill="none" stroke="#F29A7E" stroke-width="1.0" stroke-linecap="round" opacity="0.85"/>
<path d="M305.1,693.8C305.2,694.3 305.6,695.8 305.8,696.7C306.0,697.7 306.2,698.7 306.4,699.8C306.6,700.8 306.8,701.8 307.0,702.8C307.2,703.8 307.3,704.8 307.6,705.8C307.8,706.8 308.0,707.8 308.3,708.7C308.6,709.7 308.9,710.7 309.2,711.6C309.6,712.5 309.9,713.5 310.3,714.4C310.7,715.3 311.1,716.2 311.6,717.1C312.0,718.0 312.5,718.9 313.0,719.8C313.5,720.7 314.0,721.5 314.5,722.4C315.0,723.3 315.5,724.1 316.1,725.0C316.6,725.8 317.1,726.7 317.7,727.5C318.3,728.4 318.8,729.2 319.4,730.1C320.0,730.9 320.5,731.8 321.1,732.6C321.7,733.5 322.3,734.3 322.8,735.2C323.4,736.0 323.9,736.9 324.5,737.7C325.1,738.6 325.6,739.5 326.1,740.3C326.7,741.2 327.2,742.1 327.7,742.9C328.2,743.8 328.7,744.7 329.2,745.6C329.7,746.5 330.1,747.4 330.6,748.3C331.0,749.2 331.4,750.1 331.8,751.0C332.2,752.0 332.6,752.9 333.0,753.8C333.4,754.8 333.7,755.7 334.0,756.7C334.4,757.6 334.7,758.6 335.0,759.5C335.3,760.5 335.6,761.5 335.9,762.4C336.1,763.4 336.4,764.4 336.6,765.4C336.9,766.4 337.1,767.3 337.3,768.3C337.5,769.3 337.7,770.3 337.9,771.3C338.0,772.3 338.2,773.3 338.4,774.3C338.5,775.3 338.6,776.3 338.8,777.3C338.9,778.4 339.0,779.4 339.1,780.4C339.2,781.4 339.3,782.4 339.4,783.4C339.4,784.4 339.5,785.4 339.6,786.5C339.6,787.5 339.6,788.5 339.7,789.5C339.7,790.5 339.7,791.5 339.7,792.6C339.7,793.6 339.7,794.6 339.7,795.6C339.7,796.6 339.7,797.6 339.7,798.6C339.6,799.6 339.6,800.7 339.5,801.7C339.5,802.7 339.4,803.7 339.4,804.7C339.3,805.7 339.2,806.7 339.2,807.7C339.1,808.7 339.0,809.7 338.9,810.7C338.8,811.7 338.7,812.7 338.6,813.8C338.5,814.8 338.4,815.8 338.3,816.8C338.2,817.8 338.1,818.8 337.9,819.8C337.8,820.8 337.7,821.8 337.6,822.8C337.4,823.8 337.3,824.8 337.2,825.9C337.0,826.9 336.9,827.9 336.8,828.9C336.7,829.9 336.6,830.9 336.4,831.9C336.3,832.9 336.2,833.9 336.1,835.0C336.0,836.0 335.9,837.0 335.8,838.0C335.8,839.0 335.7,840.0 335.6,841.0C335.6,842.0 335.5,843.0 335.5,844.0C335.5,845.0 335.5,846.0 335.5,847.1C335.5,848.1 335.5,849.1 335.6,850.1C335.6,851.1 335.7,852.1 335.7,853.1C335.8,854.1 335.9,855.1 336.0,856.1C336.1,857.1 336.2,858.1 336.4,859.1C336.5,860.1 336.6,861.1 336.8,862.1C336.9,863.1 337.1,864.1 337.3,865.1C337.4,866.0 337.6,867.0 337.8,868.0C338.0,869.0 338.2,870.0 338.4,871.0C338.6,872.0 338.8,873.0 339.0,874.0C339.2,875.0 339.4,876.0 339.6,877.0C339.9,878.0 340.1,879.0 340.3,880.0C340.5,880.9 340.8,881.9 341.0,882.9C341.2,883.9 341.5,884.9 341.7,885.9C341.9,886.9 342.2,887.9 342.4,888.9C342.6,889.9 342.8,890.9 343.1,891.9C343.3,892.9 343.5,893.8 343.7,894.8C343.9,895.8 344.2,896.8 344.4,897.8C344.6,898.8 344.8,899.8 345.0,900.8C345.2,901.8 345.4,902.8 345.6,903.8C345.7,904.8 345.9,905.8 346.1,906.8C346.3,907.8 346.5,908.8 346.6,909.8C346.8,910.7 347.0,911.7 347.1,912.7C347.3,913.7 347.5,914.7 347.7,915.7C347.8,916.7 348.0,917.7 348.2,918.7C348.4,919.7 348.5,920.7 348.7,921.7C348.9,922.7 349.1,923.7 349.3,924.7C349.4,925.7 349.6,926.7 349.8,927.7C350.0,928.7 350.2,929.7 350.4,930.6C350.7,931.6 350.9,932.6 351.1,933.6C351.3,934.6 351.7,936.1 351.8,936.6" fill="none" stroke="#111" stroke-width="2.1" stroke-linecap="round" stroke-linejoin="round" />
<path d="M343.0,937.5C343.0,937.0 343.0,935.4 342.9,934.4C342.9,933.4 342.8,932.3 342.7,931.3C342.6,930.3 342.4,929.3 342.3,928.3C342.1,927.3 341.9,926.3 341.7,925.3C341.5,924.3 341.3,923.3 341.1,922.3C340.8,921.3 340.6,920.4 340.3,919.4C340.1,918.4 339.8,917.4 339.5,916.4C339.3,915.5 339.0,914.5 338.7,913.5C338.4,912.5 338.1,911.6 337.8,910.6C337.5,909.6 337.2,908.7 336.9,907.7C336.6,906.7 336.3,905.7 336.1,904.8C335.8,903.8 335.5,902.8 335.2,901.8C335.0,900.8 334.7,899.9 334.5,898.9C334.2,897.9 334.0,896.9 333.8,895.9C333.6,894.9 333.4,893.9 333.2,892.9C333.0,891.9 332.8,890.9 332.6,889.9C332.4,888.9 332.2,887.9 332.0,886.9C331.9,886.0 331.7,884.9 331.5,883.9C331.3,883.0 331.2,881.9 331.0,880.9C330.8,880.0 330.6,879.0 330.4,878.0C330.2,877.0 330.0,876.0 329.8,875.0C329.6,874.0 329.4,873.0 329.2,872.0C329.0,871.0 328.7,870.0 328.5,869.0C328.3,868.0 328.0,867.0 327.7,866.0C327.5,865.1 327.2,864.1 326.9,863.1C326.6,862.1 326.3,861.2 326.0,860.2C325.7,859.2 325.3,858.2 325.0,857.3C324.7,856.3 324.3,855.3 324.0,854.4C323.7,853.4 323.3,852.4 323.0,851.5C322.6,850.5 322.3,849.6 321.9,848.6C321.6,847.7 321.2,846.7 320.8,845.8C320.5,844.8 320.1,843.9 319.7,842.9C319.3,842.0 318.9,841.1 318.5,840.1C318.1,839.2 317.7,838.3 317.3,837.4C316.8,836.4 316.4,835.5 315.9,834.6C315.5,833.7 315.0,832.8 314.5,831.9C314.0,831.1 313.5,830.2 313.0,829.3C312.5,828.4 312.0,827.5 311.5,826.7C311.0,825.8 310.5,824.9 310.1,823.9C309.7,823.0 309.3,822.1 308.9,821.2C308.5,820.2 308.2,819.3 307.8,818.3C307.4,817.4 307.1,816.4 306.8,815.5C306.4,814.6 306.0,813.6 305.7,812.7C305.3,811.7 304.9,810.8 304.5,809.9C304.1,808.9 303.7,808.0 303.3,807.1C302.8,806.1 302.4,805.2 302.0,804.3C301.6,803.3 301.2,802.4 300.8,801.5C300.4,800.5 300.0,799.6 299.6,798.6C299.2,797.7 298.8,796.7 298.5,795.8C298.1,794.8 297.8,793.9 297.4,792.9C297.1,791.9 296.8,791.0 296.6,790.0C296.3,789.0 296.0,788.0 295.8,787.0C295.6,786.0 295.3,785.1 295.1,784.1C294.9,783.1 294.8,782.1 294.6,781.1C294.4,780.1 294.3,779.1 294.2,778.1C294.0,777.1 293.9,776.0 293.8,775.0C293.7,774.0 293.6,773.0 293.6,772.0C293.5,771.0 293.5,770.0 293.4,768.9C293.4,767.9 293.4,766.9 293.4,765.9C293.4,764.9 293.4,763.8 293.4,762.8C293.5,761.8 293.5,760.8 293.6,759.8C293.6,758.8 293.7,757.7 293.8,756.7C293.8,755.7 293.9,754.7 294.0,753.7C294.2,752.6 294.3,751.6 294.4,750.6C294.5,749.6 294.7,748.6 294.8,747.6C295.0,746.6 295.2,745.6 295.3,744.6C295.5,743.6 295.7,742.6 295.9,741.6C296.1,740.6 296.3,739.6 296.5,738.6C296.7,737.6 296.9,736.6 297.2,735.6C297.4,734.6 297.6,733.6 297.8,732.7C298.0,731.7 298.2,730.7 298.4,729.7C298.6,728.7 298.9,727.7 299.0,726.7C299.2,725.7 299.4,724.7 299.6,723.7C299.8,722.7 299.9,721.7 300.1,720.7C300.2,719.7 300.4,718.7 300.5,717.7C300.6,716.7 300.7,715.6 300.8,714.6C300.9,713.6 300.9,712.6 301.0,711.5C301.1,710.5 301.2,709.5 301.3,708.5C301.4,707.5 301.5,706.5 301.7,705.4C301.8,704.4 302.0,703.4 302.2,702.4C302.4,701.4 302.6,700.5 302.8,699.5C303.1,698.5 303.4,697.5 303.8,696.6C304.2,695.7 304.9,694.3 305.1,693.8" fill="none" stroke="#111" stroke-width="2.0" stroke-linecap="round" stroke-linejoin="round" />
<use href="#ht"/>
<use href="#ht" transform="translate(0,350)"/>
<use href="#ht" transform="translate(0,699.4)"/>
<path d="M525.9,186.8C526.0,188.0 526.2,191.6 526.2,194.0C526.2,196.4 526.2,198.3 525.9,201.5C525.6,204.7 524.8,209.5 524.4,213.2C524.0,216.9 523.8,221.8 523.7,223.5" fill="none" stroke="#111" stroke-width="1.6099999999999999" stroke-linecap="round" stroke-linejoin="round" />
<path d="M528.8,183.1C529.2,183.8 530.5,185.4 531.5,187.0C532.5,188.6 534.2,191.7 534.7,192.6" fill="none" stroke="#111" stroke-width="1.265" stroke-linecap="round" stroke-linejoin="round" />
<path d="M521.5,202.9C521.8,203.6 522.5,205.5 523.0,207.0C523.5,208.5 524.2,211.0 524.4,211.8" fill="none" stroke="#111" stroke-width="1.15" stroke-linecap="round" stroke-linejoin="round" />
<path d="M529.5,79.5C530.1,80.8 532.0,85.0 533.1,87.3C534.2,89.6 535.1,91.2 536.1,93.4C537.1,95.6 538.2,98.0 539.1,100.6C540.0,103.2 541.1,106.7 541.6,109.1C542.1,111.5 542.2,113.1 542.2,115.1C542.2,117.1 542.0,120.0 541.9,121.0" fill="none" stroke="#111" stroke-width="1.8399999999999999" stroke-linecap="round" stroke-linejoin="round" />
<path d="M539.7,155.3C539.9,156.5 540.6,160.0 540.9,162.4C541.2,164.8 541.4,167.4 541.5,170.0C541.6,172.6 541.3,176.6 541.3,177.9" fill="none" stroke="#111" stroke-width="2.07" stroke-linecap="round" stroke-linejoin="round" />
<path d="M528.0,135.9C528.8,134.9 531.3,131.8 532.6,130.2C533.9,128.6 534.6,128.0 536.0,126.5C537.4,125.0 538.8,123.5 540.9,121.5C543.0,119.5 546.3,116.6 548.5,114.4C550.7,112.2 552.6,110.1 554.0,108.5C555.4,106.9 556.0,106.4 556.8,105.0C557.5,103.6 558.1,101.5 558.5,100.0C558.9,98.5 559.2,96.7 559.3,96.0" fill="none" stroke="#111" stroke-width="2.1849999999999996" stroke-linecap="round" stroke-linejoin="round" />
<path d="M570.3,106.8C569.4,107.7 566.7,110.2 565.0,112.0C563.3,113.8 561.8,115.6 560.3,117.9C558.8,120.2 557.3,123.6 556.2,125.6C555.1,127.6 554.8,128.0 553.8,130.0C552.8,132.0 551.6,134.9 550.3,137.6C549.0,140.2 547.6,143.4 546.2,145.9C544.8,148.4 543.6,150.5 542.1,152.4C540.6,154.3 539.1,155.7 537.4,157.1C535.7,158.5 533.9,159.5 532.1,160.6C530.3,161.7 528.6,162.7 526.8,163.5C525.0,164.3 523.1,165.2 521.5,165.3C519.9,165.4 518.6,164.6 517.4,164.1C516.2,163.6 516.0,163.4 514.5,162.2C513.0,161.0 510.5,158.8 508.5,156.8C506.5,154.8 504.0,152.3 502.4,150.4C500.8,148.5 499.9,147.0 499.1,145.3C498.3,143.6 497.7,141.0 497.4,140.2" fill="none" stroke="#111" stroke-width="2.1849999999999996" stroke-linecap="round" stroke-linejoin="round" />
<path d="M550.2,134.6C549.4,135.2 546.3,137.9 544.5,139.5C542.8,141.2 537.9,145.7 537.1,146.8C536.3,148.0 537.6,149.2 538.7,148.4C539.8,147.5 543.9,142.3 545.5,140.5C547.0,138.6 549.8,135.6 550.4,134.8C551.1,134.1 550.9,133.9 550.2,134.6Z" fill="#111" stroke="none"/>
<path d="M524.7,143.5C524.5,144.1 523.9,145.8 523.5,147.0C523.1,148.2 522.7,150.2 522.5,150.9" fill="none" stroke="#111" stroke-width="1.15" stroke-linecap="round" stroke-linejoin="round" />
<path d="M561.0,90.0C560.9,89.0 560.2,86.2 560.6,84.0C561.0,81.8 561.6,78.3 563.2,76.5C564.8,74.7 567.9,73.4 570.3,72.9C572.7,72.4 575.4,73.0 577.4,73.4C579.4,73.8 581.2,75.2 582.0,75.5" fill="none" stroke="#111" stroke-width="1.8399999999999999" stroke-linecap="round" stroke-linejoin="round" />
<path d="M564.5,89.0C564.9,87.5 565.5,82.2 566.8,80.0C568.0,77.8 570.0,76.5 572.0,75.8C574.0,75.1 577.0,75.4 579.0,75.6C581.0,75.8 583.2,76.8 584.0,77.0" fill="none" stroke="#111" stroke-width="1.8399999999999999" stroke-linecap="round" stroke-linejoin="round" />
<ellipse cx="580.4" cy="92.4" rx="15.4" ry="16" fill="#fff" stroke="#111" stroke-width="1.65"/>
<circle cx="581.3" cy="93.60000000000001" r="4.3" fill="#fff" stroke="#777" stroke-width="1.1"/>
<path d="M550.0,112.6C550.9,111.6 553.8,108.5 555.3,106.5C556.8,104.5 558.1,102.4 558.8,100.3C559.5,98.2 559.2,95.7 559.7,94.1C560.2,92.5 560.6,91.6 561.5,90.6C562.4,89.6 564.4,88.4 565.0,88.0" fill="none" stroke="#111" stroke-width="1.8399999999999999" stroke-linecap="round" stroke-linejoin="round" />
<path d="M557.0,124.0C557.8,122.7 559.7,118.5 561.5,116.2C563.3,113.9 566.0,111.5 567.6,110.0C569.2,108.5 570.6,107.8 571.2,107.4" fill="none" stroke="#111" stroke-width="1.8399999999999999" stroke-linecap="round" stroke-linejoin="round" />
<path d="M624.2,229.3C625.4,225.8 629.3,215.6 631.5,208.3C633.7,201.0 636.1,192.3 637.2,185.6C638.3,178.8 638.4,174.0 638.0,167.8C637.6,161.6 636.6,154.3 634.7,148.4C632.8,142.5 629.6,136.8 626.6,132.2C623.6,127.6 618.6,122.9 617.0,121.0" fill="none" stroke="#111" stroke-width="2.3" stroke-linecap="round" stroke-linejoin="round" />
<path d="M601.6,108 L612.6,126.2 L620.6,117.4 Z" fill="#111"/>
<g transform="translate(0,350)"><path d="M529.5,79.5C530.1,80.8 532.0,85.0 533.1,87.3C534.2,89.6 535.1,91.2 536.1,93.4C537.1,95.6 538.2,98.0 539.1,100.6C540.0,103.2 541.1,106.7 541.6,109.1C542.1,111.5 542.2,113.1 542.2,115.1C542.2,117.1 542.0,120.0 541.9,121.0" fill="none" stroke="#111" stroke-width="1.8399999999999999" stroke-linecap="round" stroke-linejoin="round" />
<path d="M541.6,117.0C541.5,118.8 541.2,124.5 541.0,128.0C540.8,131.5 540.6,135.2 540.5,138.0C540.4,140.8 540.5,142.1 540.5,145.0C540.5,147.9 540.3,152.4 540.6,155.7C540.9,159.0 542.0,162.4 542.3,165.0C542.6,167.6 542.6,169.3 542.5,171.2C542.4,173.1 541.7,175.5 541.5,176.3" fill="none" stroke="#111" stroke-width="2.07" stroke-linecap="round" stroke-linejoin="round" />
<path d="M530.2,148.0C531.2,148.9 534.6,151.9 536.3,153.7C538.0,155.5 539.3,157.1 540.2,159.0C541.1,160.9 541.2,163.2 541.5,165.0C541.8,166.8 541.9,168.4 541.8,170.1C541.7,171.8 541.7,173.9 540.8,175.3C539.9,176.7 538.1,177.5 536.6,178.4C535.1,179.3 532.4,180.6 531.5,181.0" fill="none" stroke="#111" stroke-width="1.7249999999999999" stroke-linecap="round" stroke-linejoin="round" />
<path d="M498.0,160.0C496.4,160.8 503.8,170.2 505.0,172.0C506.2,173.8 511.6,179.8 512.7,181.5C513.9,183.2 517.9,190.3 518.8,191.8C519.7,193.3 522.7,198.3 523.5,199.5C524.3,200.7 526.9,205.6 528.0,206.0C529.1,206.4 536.4,205.0 537.0,204.0C537.6,203.0 535.7,195.3 535.3,193.9C534.9,192.5 532.7,187.9 532.2,186.6C531.7,185.3 529.6,179.9 529.1,178.4C528.6,176.9 527.0,170.5 526.6,169.1C526.2,167.7 526.4,162.7 524.0,161.9C521.6,161.1 499.6,159.2 498.0,160.0Z" fill="#fff"/>
<path d="M497.7,141.3C497.8,143.4 497.6,150.3 498.2,153.7C498.8,157.1 499.9,159.0 501.3,161.9C502.7,164.8 504.6,168.0 506.5,171.2C508.4,174.4 511.0,178.3 512.7,181.0C514.4,183.7 515.3,185.2 516.8,187.4C518.3,189.7 520.1,192.2 521.5,194.5C522.9,196.8 523.8,198.6 525.0,201.5C526.2,204.4 527.3,209.2 528.6,212.1C529.9,214.9 532.0,217.5 532.7,218.6" fill="none" stroke="#111" stroke-width="2.1849999999999996" stroke-linecap="round" stroke-linejoin="round" />
<path d="M520.9,144.4C520.5,145.3 518.8,148.4 518.3,149.6C517.8,150.8 517.4,150.6 517.8,151.6C518.2,152.6 519.9,154.0 520.9,155.7C521.9,157.4 523.0,159.7 524.0,161.9C525.0,164.1 525.8,166.3 526.6,169.1C527.5,171.8 528.2,175.5 529.1,178.4C530.0,181.3 531.2,184.0 532.2,186.6C533.2,189.2 534.4,191.7 535.3,193.9C536.2,196.1 536.8,198.2 537.4,200.0C538.0,201.8 538.7,204.2 539.0,205.0" fill="none" stroke="#111" stroke-width="2.07" stroke-linecap="round" stroke-linejoin="round" />
<path d="M506.0,161.9C506.6,163.1 508.1,166.3 509.6,169.1C511.1,171.8 514.3,176.8 515.2,178.4" fill="none" stroke="#111" stroke-width="1.38" stroke-linecap="round" stroke-linejoin="round" />
<path d="M508.5,144.4C508.2,144.8 507.0,146.1 506.5,147.0C506.0,147.9 505.6,149.2 505.4,149.6" fill="none" stroke="#111" stroke-width="1.265" stroke-linecap="round" stroke-linejoin="round" />
<path d="M537.5,198.2C538.1,198.1 539.6,197.5 541.0,197.5C542.4,197.5 544.2,197.8 545.6,198.2C547.0,198.6 548.7,199.7 549.3,200.0" fill="none" stroke="#111" stroke-width="1.6099999999999999" stroke-linecap="round" stroke-linejoin="round" />
<path d="M533.6,222.6C533.4,221.9 532.8,220.1 532.7,218.8C532.6,217.6 532.6,216.3 532.8,215.0C532.9,213.8 533.3,212.5 533.8,211.3C534.2,210.1 534.9,209.0 535.7,208.0C536.4,206.9 537.3,206.0 538.3,205.2C539.3,204.4 540.4,203.6 541.6,203.1C542.7,202.5 544.0,202.1 545.3,201.8C546.5,201.6 547.9,201.5 549.2,201.5C550.4,201.6 552.4,202.0 553.0,202.1" fill="none" stroke="#111" stroke-width="1.8399999999999999" stroke-linecap="round" stroke-linejoin="round" />
<ellipse cx="550" cy="218.7" rx="16" ry="15.7" fill="#fff" stroke="#111" stroke-width="1.65"/>
<circle cx="550.9" cy="219.89999999999998" r="4.3" fill="#fff" stroke="#777" stroke-width="1.1"/>
<path d="M603.4,74.2C604.7,77.6 608.9,87.6 611.0,94.7C613.1,101.8 615.3,109.6 616.2,117.0C617.1,124.4 617.1,132.1 616.2,139.2C615.3,146.3 613.3,153.4 611.0,159.7C608.7,166.0 604.8,172.6 602.5,176.8C600.2,181.0 597.9,183.6 597.0,185.0" fill="none" stroke="#111" stroke-width="2.3" stroke-linecap="round" stroke-linejoin="round" />
<path d="M580.3,202.5 L590.2,185 L599.5,193.4 Z" fill="#111"/></g>
<g transform="translate(0,699.4)"><path d="M525.9,186.8C526.0,188.0 526.2,191.6 526.2,194.0C526.2,196.4 526.2,198.3 525.9,201.5C525.6,204.7 524.8,209.5 524.4,213.2C524.0,216.9 523.8,221.8 523.7,223.5" fill="none" stroke="#111" stroke-width="1.6099999999999999" stroke-linecap="round" stroke-linejoin="round" />
<path d="M528.8,183.1C529.2,183.8 530.5,185.4 531.5,187.0C532.5,188.6 534.2,191.7 534.7,192.6" fill="none" stroke="#111" stroke-width="1.265" stroke-linecap="round" stroke-linejoin="round" />
<path d="M521.5,202.9C521.8,203.6 522.5,205.5 523.0,207.0C523.5,208.5 524.2,211.0 524.4,211.8" fill="none" stroke="#111" stroke-width="1.15" stroke-linecap="round" stroke-linejoin="round" />
<path d="M529.5,79.5C530.1,80.8 532.0,85.0 533.1,87.3C534.2,89.6 535.1,91.2 536.1,93.4C537.1,95.6 538.2,98.0 539.1,100.6C540.0,103.2 541.1,106.7 541.6,109.1C542.1,111.5 542.2,113.1 542.2,115.1C542.2,117.1 542.0,118.5 541.9,121.0C541.8,123.5 541.9,126.0 541.9,130.0C541.9,134.0 541.6,142.5 541.6,145.0" fill="none" stroke="#111" stroke-width="1.8399999999999999" stroke-linecap="round" stroke-linejoin="round" />
<path d="M541.5,164.7C541.4,165.9 541.0,169.8 541.0,172.0C541.0,174.2 541.2,176.9 541.3,177.9" fill="none" stroke="#111" stroke-width="1.8399999999999999" stroke-linecap="round" stroke-linejoin="round" />
<path d="M526.5,143.5C527.8,143.8 531.3,144.6 534.4,145.3C537.5,146.0 541.5,147.0 545.0,147.9C548.5,148.8 552.4,150.0 555.6,150.6C558.8,151.2 562.2,151.2 564.4,151.5C566.6,151.8 568.2,152.2 569.0,152.4" fill="none" stroke="#111" stroke-width="1.9549999999999998" stroke-linecap="round" stroke-linejoin="round" />
<path d="M497.5,139.5C497.5,141.7 497.4,148.9 497.7,152.4C498.0,155.9 498.4,158.6 499.1,160.3C499.8,162.1 500.0,162.3 501.8,162.9C503.6,163.5 505.1,163.8 509.7,163.8C514.2,163.8 522.9,163.2 529.1,162.9C535.3,162.6 541.8,162.4 546.8,162.1C551.8,161.8 555.4,161.5 559.1,161.2C562.8,160.9 567.4,160.5 569.0,160.3" fill="none" stroke="#111" stroke-width="1.9549999999999998" stroke-linecap="round" stroke-linejoin="round" />
<path d="M548.5,152.4C549.4,152.6 552.2,153.4 554.0,153.8C555.8,154.2 558.2,154.8 559.1,155.0" fill="none" stroke="#111" stroke-width="1.15" stroke-linecap="round" stroke-linejoin="round" />
<path d="M504.0,160.5L508.0,158.5" fill="none" stroke="#111" stroke-width="1.15" stroke-linecap="round" stroke-linejoin="round" />
<path d="M568.0,150.0C567.8,149.7 566.7,149.8 567.0,148.0C567.3,146.2 568.1,141.2 569.7,139.1C571.3,137.0 574.4,136.0 576.8,135.6C579.1,135.2 582.6,136.3 583.8,136.5" fill="none" stroke="#111" stroke-width="1.8399999999999999" stroke-linecap="round" stroke-linejoin="round" />
<path d="M571.0,151.0C571.2,149.7 571.3,145.1 572.5,143.0C573.7,140.9 575.8,139.2 578.0,138.5C580.2,137.8 584.7,138.9 586.0,139.0" fill="none" stroke="#111" stroke-width="1.8399999999999999" stroke-linecap="round" stroke-linejoin="round" />
<ellipse cx="587.4" cy="155.9" rx="15.4" ry="15.4" fill="#fff" stroke="#111" stroke-width="1.65"/>
<circle cx="588.3" cy="157.1" r="4.3" fill="#fff" stroke="#777" stroke-width="1.1"/></g>
<text x="136.7" y="85.1" font-size="17" letter-spacing="0.2">Muscle</text>
<text x="136.7" y="104.0" font-size="17" letter-spacing="0.2">contracts</text>
<text x="136.7" y="122.9" font-size="17" letter-spacing="0.2">(concentric</text>
<text x="136.7" y="141.8" font-size="17" letter-spacing="0.2">contraction)</text>
<text x="142.3" y="438.2" font-size="17" letter-spacing="0.2">Muscle</text>
<text x="142.3" y="457.1" font-size="17" letter-spacing="0.2">elongates</text>
<text x="142.3" y="475.9" font-size="17" letter-spacing="0.2">(eccentric</text>
<text x="142.3" y="494.8" font-size="17" letter-spacing="0.2">contraction)</text>
<text x="139.1" y="796.8" font-size="17" letter-spacing="0.2">Muscle</text>
<text x="139.1" y="815.6" font-size="17" letter-spacing="0.2">contracts</text>
<text x="139.1" y="834.4" font-size="17" letter-spacing="0.2">(isometric</text>
<text x="139.1" y="853.2" font-size="17" letter-spacing="0.2">contraction)</text>
<rect x="137.3" y="168" width="65.69999999999999" height="5.300000000000011" fill="#E21F28"/><path d="M202,162.3 L232,170.15 L202,178 Z" fill="#E21F28"/>
<rect x="143.2" y="522" width="65.4" height="5.2999999999999545" fill="#E21F28"/><path d="M207.6,516.8 L237.6,524.7 L207.6,532.6 Z" fill="#E21F28"/>
<rect x="143.2" y="878.5" width="64.60000000000002" height="5.100000000000023" fill="#E21F28"/><path d="M206.8,873.5 L237.3,881.0 L206.8,888.5 Z" fill="#E21F28"/>
<text x="582" y="248.7" font-size="17.5">Movement</text>
<text x="581.8" y="411.9" font-size="17.5">Movement</text>
<text x="568.5" y="904.4" font-size="17.4">No movement</text>
</svg>
</body></html>
